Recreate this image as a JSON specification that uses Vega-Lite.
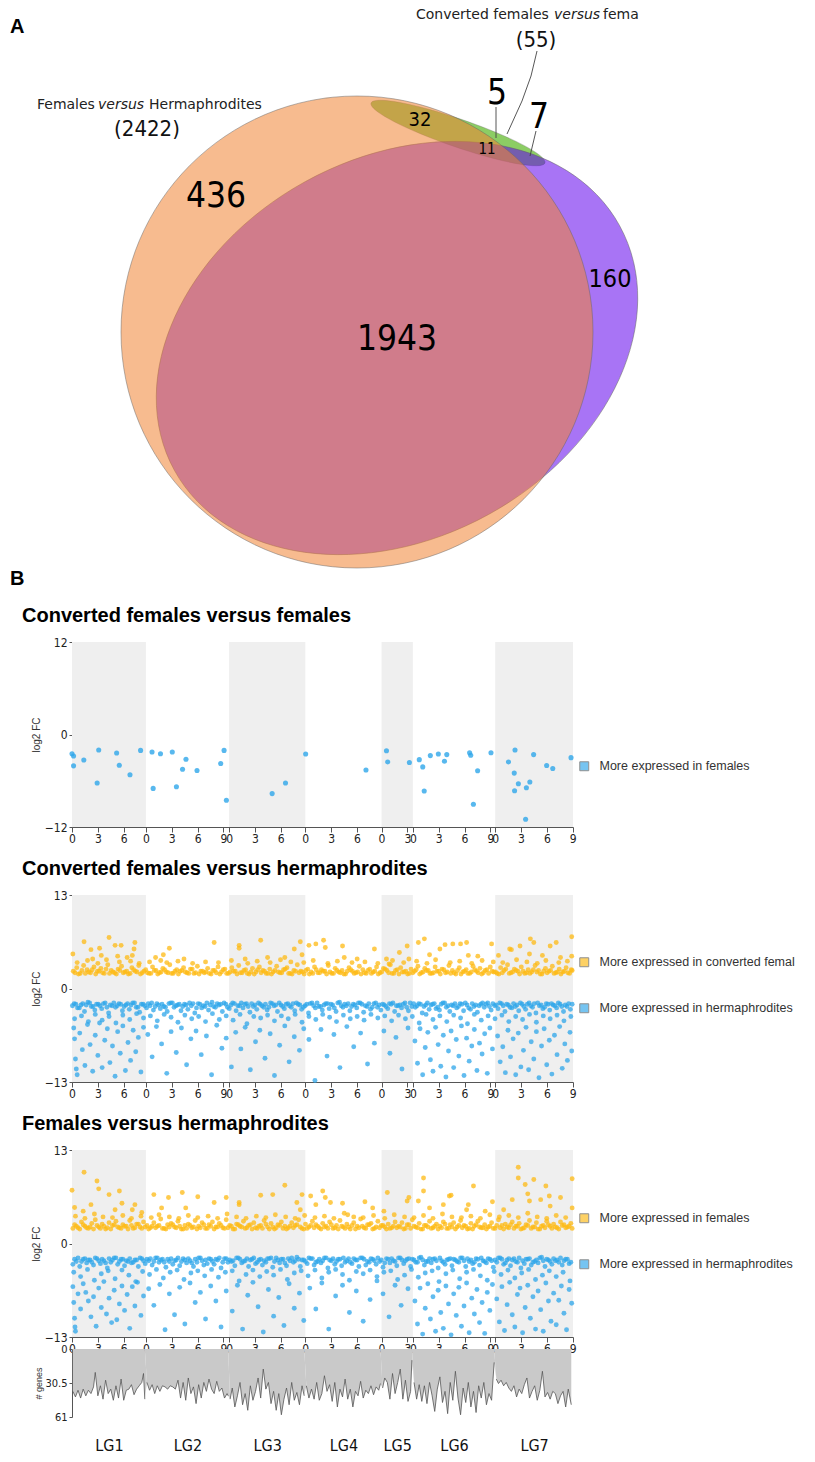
{
"$schema": "https://vega.github.io/schema/vega-lite/v6.json",
"padding": {"left": 10, "top": 0, "right": 0, "bottom": 0},
"spacing": 15,
"resolve": {"scale": {"color": "independent"}, "legend": {"color": "independent"}},
"config": {
  "font": "Liberation Sans",
  "view": {"stroke": null},
  "axis": {"grid": false, "domainColor": "#555", "tickColor": "#555", "labelColor": "#222", "labelFont": "DejaVu Sans Condensed, DejaVu Sans", "titleColor": "#333", "labelFlush": false},
  "legend": {"symbolType": "square", "symbolSize": 80, "symbolStrokeColor": "#555", "symbolStrokeWidth": 1, "symbolOpacity": 0.65, "labelFont": "Liberation Sans", "labelFontSize": 12.5, "labelColor": "#333", "rowPadding": 32, "labelOffset": 9, "padding": 0, "labelLimit": 400}
},
"datasets": {
  "ell": [{"e": "g", "x": 458, "y": 133}, {"e": "p", "x": 397, "y": 348}, {"e": "o", "x": 357, "y": 332}],
  "vline": [
    {"id": "a", "x": 537, "y": 51, "o": 1}, {"id": "a", "x": 531, "y": 76, "o": 2}, {"id": "a", "x": 522, "y": 101, "o": 3}, {"id": "a", "x": 507, "y": 134, "o": 4},
    {"id": "b", "x": 496, "y": 107, "o": 1}, {"id": "b", "x": 496, "y": 138, "o": 2},
    {"id": "c", "x": 536, "y": 131, "o": 1}, {"id": "c", "x": 530, "y": 156, "o": 2}
  ],
  "vtext": [
    {"t": "A", "x": 10, "y": 27, "r": "panel"},
    {"t": "B", "x": 10, "y": 579, "r": "panel"},
    {"t": "Converted females", "x": 416, "y": 15, "r": "lab"},
    {"t": "versus", "x": 554, "y": 15, "r": "labit"},
    {"t": "fema", "x": 603, "y": 15, "r": "lab"},
    {"t": "Females", "x": 37, "y": 105, "r": "lab"},
    {"t": "versus", "x": 98, "y": 105, "r": "labit"},
    {"t": "Hermaphrodites", "x": 149, "y": 105, "r": "lab"},
    {"t": "(55)", "x": 536, "y": 40, "r": "cnt"},
    {"t": "(2422)", "x": 147, "y": 129, "r": "cnt"},
    {"t": "5", "x": 497, "y": 93, "r": "big"},
    {"t": "7", "x": 539, "y": 117, "r": "big"},
    {"t": "436", "x": 216, "y": 196, "r": "big"},
    {"t": "1943", "x": 397, "y": 339, "r": "big"},
    {"t": "160", "x": 610, "y": 279, "r": "mid"},
    {"t": "32", "x": 420, "y": 120, "r": "sm"},
    {"t": "11", "x": 487, "y": 149, "r": "xs"}
  ],
  "lgband": [{"x": 0, "x2": 8.58}, {"x": 18.23, "x2": 27.08}, {"x": 35.93, "x2": 39.56}, {"x": 49.12, "x2": 58.15}],
  "p1": [
    {"x":0,"y":-2.49},{"x":0.18,"y":-2.79},{"x":0.18,"y":-4.07},{"x":1.37,"y":-3.3},{"x":3.1,"y":-2.01},{"x":2.92,"y":-6.3},{"x":5.18,"y":-2.4},{"x":5.49,"y":-3.99},{"x":6.73,"y":-5.23},{"x":7.96,"y":-2.06},
    {"x":9.29,"y":-2.27},{"x":9.42,"y":-6.99},{"x":10.27,"y":-2.49},{"x":11.64,"y":-2.27},{"x":12.12,"y":-6.77},{"x":12.83,"y":-4.5},{"x":13.23,"y":-3.21},{"x":14.51,"y":-4.67},{"x":17.26,"y":-3.77},{"x":17.65,"y":-2.06},
    {"x":17.92,"y":-8.53},{"x":23.23,"y":-7.67},{"x":24.78,"y":-6.3},{"x":27.12,"y":-2.53},{"x":34.12,"y":-4.6},{"x":36.5,"y":-2.1},{"x":36.64,"y":-3.56},{"x":39.16,"y":-3.64},{"x":40.31,"y":-3.26},{"x":40.71,"y":-4.2},
    {"x":40.88,"y":-7.33},{"x":41.59,"y":-2.74},{"x":42.52,"y":-2.53},{"x":43.23,"y":-3.47},{"x":43.5,"y":-2.61},{"x":46.15,"y":-2.36},{"x":46.28,"y":-2.7},{"x":46.59,"y":-9.04},{"x":47.08,"y":-4.71},{"x":48.63,"y":-2.36},
    {"x":50.66,"y":-3.56},{"x":51.33,"y":-5.01},{"x":51.42,"y":-2.01},{"x":51.37,"y":-7.29},{"x":51.81,"y":-6.39},{"x":52.74,"y":-6.9},{"x":53.14,"y":-6.17},{"x":53.58,"y":-2.61},{"x":52.65,"y":-11.0},{"x":55.09,"y":-4.03},
    {"x":55.8,"y":-4.41},{"x":57.92,"y":-3.0}
  ],
  "p2u": [
    {"x":0.15,"y":2.4},{"x":0.55,"y":2.9},{"x":0.95,"y":2.1},{"x":1.35,"y":3.2},{"x":1.75,"y":2.6},{"x":2.15,"y":2.2},{"x":2.55,"y":3.0},{"x":2.95,"y":2.4},{"x":3.35,"y":2.8},{"x":3.75,"y":2.1},
    {"x":4.15,"y":3.3},{"x":4.55,"y":2.5},{"x":4.95,"y":2.2},{"x":5.35,"y":2.7},{"x":5.75,"y":3.1},{"x":6.15,"y":2.3},{"x":6.55,"y":2.0},{"x":6.95,"y":2.9},{"x":7.35,"y":2.4},{"x":7.75,"y":3.2},
    {"x":8.15,"y":2.2},{"x":8.55,"y":2.6},{"x":8.95,"y":2.1},{"x":9.35,"y":3.0},{"x":9.75,"y":2.5},{"x":10.15,"y":2.2},{"x":10.55,"y":2.8},{"x":10.95,"y":2.3},{"x":11.35,"y":3.3},{"x":11.75,"y":2.1},
    {"x":12.15,"y":2.6},{"x":12.55,"y":2.4},{"x":12.95,"y":2.9},{"x":13.35,"y":2.2},{"x":13.75,"y":2.7},{"x":14.15,"y":2.1},{"x":14.55,"y":3.1},{"x":14.95,"y":2.4},{"x":15.35,"y":2.2},{"x":15.75,"y":2.8},
    {"x":16.15,"y":2.0},{"x":16.55,"y":2.5},{"x":16.95,"y":3.0},{"x":17.35,"y":2.3},{"x":17.75,"y":2.7},{"x":18.15,"y":2.1},{"x":18.55,"y":2.9},{"x":18.95,"y":2.4},{"x":19.35,"y":3.2},{"x":19.75,"y":2.2},
    {"x":20.15,"y":2.6},{"x":20.55,"y":2.0},{"x":20.95,"y":2.8},{"x":21.35,"y":2.3},{"x":21.75,"y":3.0},{"x":22.15,"y":2.5},{"x":22.55,"y":2.1},{"x":22.95,"y":2.7},{"x":23.35,"y":2.3},{"x":23.75,"y":3.1},
    {"x":24.15,"y":2.2},{"x":24.55,"y":2.6},{"x":24.95,"y":2.9},{"x":25.35,"y":2.1},{"x":25.75,"y":2.5},{"x":26.15,"y":3.3},{"x":26.55,"y":2.4},{"x":26.95,"y":2.0},{"x":27.35,"y":2.7},{"x":27.75,"y":2.3},
    {"x":28.15,"y":3.0},{"x":28.55,"y":2.2},{"x":28.95,"y":2.6},{"x":29.35,"y":2.4},{"x":29.75,"y":3.2},{"x":30.15,"y":2.1},{"x":30.55,"y":2.8},{"x":30.95,"y":2.3},{"x":31.35,"y":2.5},{"x":31.75,"y":2.0},
    {"x":32.15,"y":2.9},{"x":32.55,"y":2.4},{"x":32.95,"y":2.2},{"x":33.35,"y":3.1},{"x":33.75,"y":2.6},{"x":34.15,"y":2.1},{"x":34.55,"y":2.7},{"x":34.95,"y":2.3},{"x":35.35,"y":3.0},{"x":35.75,"y":2.2},
    {"x":36.15,"y":2.8},{"x":36.55,"y":2.5},{"x":36.95,"y":3.3},{"x":37.35,"y":2.1},{"x":37.75,"y":2.6},{"x":38.15,"y":2.9},{"x":38.55,"y":2.3},{"x":38.95,"y":2.0},{"x":39.35,"y":2.7},{"x":39.75,"y":2.4},
    {"x":40.15,"y":3.1},{"x":40.55,"y":2.2},{"x":40.95,"y":2.8},{"x":41.35,"y":2.5},{"x":41.75,"y":2.1},{"x":42.15,"y":3.0},{"x":42.55,"y":2.4},{"x":42.95,"y":2.7},{"x":43.35,"y":2.2},{"x":43.75,"y":3.2},
    {"x":44.15,"y":2.5},{"x":44.55,"y":2.0},{"x":44.95,"y":2.9},{"x":45.35,"y":2.3},{"x":45.75,"y":2.6},{"x":46.15,"y":2.1},{"x":46.55,"y":3.1},{"x":46.95,"y":2.4},{"x":47.35,"y":2.8},{"x":47.75,"y":2.2},
    {"x":48.15,"y":2.6},{"x":48.55,"y":3.0},{"x":48.95,"y":2.3},{"x":49.35,"y":2.1},{"x":49.75,"y":2.9},{"x":50.15,"y":2.5},{"x":50.55,"y":3.3},{"x":50.95,"y":2.2},{"x":51.35,"y":2.7},{"x":51.75,"y":2.4},
    {"x":52.15,"y":3.0},{"x":52.55,"y":2.1},{"x":52.95,"y":2.6},{"x":53.35,"y":2.3},{"x":53.75,"y":3.2},{"x":54.15,"y":2.5},{"x":54.55,"y":2.0},{"x":54.95,"y":2.8},{"x":55.35,"y":2.4},{"x":55.75,"y":3.1},
    {"x":56.15,"y":2.2},{"x":56.55,"y":2.7},{"x":56.95,"y":2.3},{"x":57.35,"y":2.9},{"x":57.75,"y":2.1},{"x":58.05,"y":2.5},
    {"x":0.35,"y":2.2},{"x":0.75,"y":2.0},{"x":1.15,"y":2.5},{"x":1.55,"y":2.1},{"x":1.95,"y":2.3},{"x":2.35,"y":2.6},{"x":2.75,"y":2.0},{"x":3.15,"y":2.4},{"x":3.55,"y":2.2},{"x":3.95,"y":2.7},
    {"x":4.35,"y":2.1},{"x":4.75,"y":2.3},{"x":5.15,"y":2.0},{"x":5.55,"y":2.5},{"x":5.95,"y":2.2},{"x":6.35,"y":2.4},{"x":6.75,"y":2.1},{"x":7.15,"y":2.6},{"x":7.55,"y":2.3},{"x":7.95,"y":2.0},
    {"x":8.35,"y":2.4},{"x":8.75,"y":2.2},{"x":9.15,"y":2.1},{"x":9.55,"y":2.5},{"x":9.95,"y":2.0},{"x":10.35,"y":2.3},{"x":10.75,"y":2.6},{"x":11.15,"y":2.2},{"x":11.55,"y":2.1},{"x":11.95,"y":2.4},
    {"x":12.35,"y":2.0},{"x":12.75,"y":2.5},{"x":13.15,"y":2.3},{"x":13.55,"y":2.1},{"x":13.95,"y":2.7},{"x":14.35,"y":2.2},{"x":14.75,"y":2.0},{"x":15.15,"y":2.4},{"x":15.55,"y":2.3},{"x":15.95,"y":2.1},
    {"x":16.35,"y":2.5},{"x":16.75,"y":2.2},{"x":17.15,"y":2.0},{"x":17.55,"y":2.6},{"x":17.95,"y":2.1},{"x":18.35,"y":2.3},{"x":18.75,"y":2.4},{"x":19.15,"y":2.0},{"x":19.55,"y":2.2},{"x":19.95,"y":2.5},
    {"x":20.35,"y":2.1},{"x":20.75,"y":2.3},{"x":21.15,"y":2.0},{"x":21.55,"y":2.6},{"x":21.95,"y":2.2},{"x":22.35,"y":2.4},{"x":22.75,"y":2.1},{"x":23.15,"y":2.0},{"x":23.55,"y":2.5},{"x":23.95,"y":2.3},
    {"x":24.35,"y":2.2},{"x":24.75,"y":2.7},{"x":25.15,"y":2.1},{"x":25.55,"y":2.0},{"x":25.95,"y":2.4},{"x":26.35,"y":2.2},{"x":26.75,"y":2.3},{"x":27.15,"y":2.5},{"x":27.55,"y":2.0},{"x":27.95,"y":2.1},
    {"x":28.35,"y":2.6},{"x":28.75,"y":2.2},{"x":29.15,"y":2.4},{"x":29.55,"y":2.0},{"x":29.95,"y":2.3},{"x":30.35,"y":2.1},{"x":30.75,"y":2.5},{"x":31.15,"y":2.2},{"x":31.55,"y":2.0},{"x":31.95,"y":2.4},
    {"x":32.35,"y":2.6},{"x":32.75,"y":2.1},{"x":33.15,"y":2.3},{"x":33.55,"y":2.0},{"x":33.95,"y":2.2},{"x":34.35,"y":2.5},{"x":34.75,"y":2.1},{"x":35.15,"y":2.4},{"x":35.55,"y":2.0},{"x":35.95,"y":2.3},
    {"x":36.35,"y":2.7},{"x":36.75,"y":2.2},{"x":37.15,"y":2.1},{"x":37.55,"y":2.5},{"x":37.95,"y":2.0},{"x":38.35,"y":2.3},{"x":38.75,"y":2.4},{"x":39.15,"y":2.1},{"x":39.55,"y":2.2},{"x":39.95,"y":2.6},
    {"x":40.35,"y":2.0},{"x":40.75,"y":2.3},{"x":41.15,"y":2.5},{"x":41.55,"y":2.1},{"x":41.95,"y":2.2},{"x":42.35,"y":2.4},{"x":42.75,"y":2.0},{"x":43.15,"y":2.6},{"x":43.55,"y":2.3},{"x":43.95,"y":2.1},
    {"x":44.35,"y":2.2},{"x":44.75,"y":2.5},{"x":45.15,"y":2.0},{"x":45.55,"y":2.4},{"x":45.95,"y":2.1},{"x":46.35,"y":2.3},{"x":46.75,"y":2.6},{"x":47.15,"y":2.2},{"x":47.55,"y":2.0},{"x":47.95,"y":2.5},
    {"x":48.35,"y":2.1},{"x":48.75,"y":2.4},{"x":49.15,"y":2.3},{"x":49.55,"y":2.0},{"x":49.95,"y":2.2},{"x":50.35,"y":2.7},{"x":50.75,"y":2.1},{"x":51.15,"y":2.3},{"x":51.55,"y":2.5},{"x":51.95,"y":2.0},
    {"x":52.35,"y":2.4},{"x":52.75,"y":2.2},{"x":53.15,"y":2.1},{"x":53.55,"y":2.6},{"x":53.95,"y":2.3},{"x":54.35,"y":2.0},{"x":54.75,"y":2.4},{"x":55.15,"y":2.2},{"x":55.55,"y":2.5},{"x":55.95,"y":2.1},
    {"x":56.35,"y":2.3},{"x":56.75,"y":2.0},{"x":57.15,"y":2.4},{"x":57.55,"y":2.2},{"x":57.95,"y":2.6},
    {"x":0.6,"y":3.6},{"x":1.8,"y":3.9},{"x":3.0,"y":3.5},{"x":4.0,"y":4.0},{"x":5.5,"y":3.7},{"x":6.8,"y":3.8},{"x":7.8,"y":3.5},{"x":9.0,"y":3.7},{"x":10.3,"y":3.9},{"x":11.0,"y":3.6},
    {"x":12.3,"y":3.8},{"x":14.0,"y":3.5},{"x":15.5,"y":3.7},{"x":17.0,"y":3.6},{"x":18.5,"y":3.9},{"x":20.4,"y":3.5},{"x":21.5,"y":3.8},{"x":23.0,"y":3.6},{"x":24.2,"y":4.0},{"x":25.4,"y":3.7},
    {"x":26.9,"y":3.6},{"x":28.0,"y":3.9},{"x":29.7,"y":3.5},{"x":30.8,"y":3.8},{"x":32.5,"y":3.6},{"x":34.0,"y":3.7},{"x":35.5,"y":3.5},{"x":37.2,"y":3.9},{"x":38.5,"y":3.6},{"x":40.0,"y":3.8},
    {"x":41.2,"y":3.5},{"x":42.2,"y":4.0},{"x":43.9,"y":3.6},{"x":45.0,"y":3.8},{"x":46.4,"y":3.5},{"x":47.6,"y":3.9},{"x":48.9,"y":3.7},{"x":50.0,"y":3.6},{"x":51.6,"y":4.0},{"x":52.8,"y":3.7},
    {"x":54.0,"y":3.5},{"x":55.0,"y":3.9},{"x":56.5,"y":3.6},{"x":57.5,"y":3.8},
    {"x":0.1,"y":4.8},{"x":1.4,"y":6.5},{"x":2.2,"y":5.4},{"x":3.2,"y":5.6},{"x":4.3,"y":7.1},{"x":5.0,"y":6.0},{"x":5.7,"y":6.0},{"x":7.3,"y":6.4},{"x":7.2,"y":5.5},{"x":2.4,"y":4.1},
    {"x":3.4,"y":4.6},{"x":5.3,"y":4.5},{"x":6.4,"y":4.3},{"x":7.0,"y":4.6},{"x":9.7,"y":4.3},{"x":10.6,"y":4.7},{"x":11.3,"y":5.6},{"x":13.0,"y":4.1},{"x":16.5,"y":6.4},{"x":19.4,"y":6.0},
    {"x":19.4,"y":5.6},{"x":21.9,"y":6.7},{"x":20.1,"y":4.1},{"x":22.7,"y":4.3},{"x":24.7,"y":4.3},{"x":25.8,"y":5.5},{"x":26.5,"y":6.5},{"x":26.7,"y":4.7},{"x":27.5,"y":6.0},{"x":28.3,"y":6.2},
    {"x":29.2,"y":6.7},{"x":29.4,"y":5.7},{"x":31.4,"y":5.9},{"x":31.6,"y":4.3},{"x":33.1,"y":4.1},{"x":35.1,"y":5.5},{"x":36.5,"y":4.1},{"x":36.8,"y":3.4},{"x":38.0,"y":5.0},{"x":38.9,"y":5.9},
    {"x":39.1,"y":4.1},{"x":40.2,"y":6.4},{"x":40.9,"y":6.9},{"x":41.5,"y":4.7},{"x":42.7,"y":5.5},{"x":43.3,"y":6.1},{"x":44.2,"y":6.2},{"x":45.1,"y":6.2},{"x":45.8,"y":6.4},{"x":46.0,"y":4.6},
    {"x":47.1,"y":4.5},{"x":48.7,"y":6.2},{"x":49.5,"y":4.6},{"x":50.8,"y":5.5},{"x":51.0,"y":5.4},{"x":52.0,"y":5.9},{"x":53.1,"y":4.8},{"x":53.2,"y":6.9},{"x":53.6,"y":6.4},{"x":54.6,"y":4.6},
    {"x":55.5,"y":5.9},{"x":56.2,"y":6.4},{"x":56.7,"y":4.3},{"x":58.0,"y":7.2},{"x":58.0,"y":4.5}
  ],
  "p2d": [
    {"x":0.25,"y":-2.1},{"x":0.65,"y":-2.7},{"x":1.05,"y":-2.3},{"x":1.45,"y":-3.2},{"x":1.85,"y":-1.9},{"x":2.25,"y":-2.5},{"x":2.65,"y":-3.0},{"x":3.05,"y":-2.2},{"x":3.45,"y":-2.8},{"x":3.85,"y":-2.0},
    {"x":4.25,"y":-3.4},{"x":4.65,"y":-2.4},{"x":5.05,"y":-2.6},{"x":5.45,"y":-2.1},{"x":5.85,"y":-3.1},{"x":6.25,"y":-2.3},{"x":6.65,"y":-2.9},{"x":7.05,"y":-2.0},{"x":7.45,"y":-2.6},{"x":7.85,"y":-3.3},
    {"x":8.25,"y":-2.2},{"x":8.65,"y":-2.7},{"x":9.05,"y":-2.4},{"x":9.45,"y":-3.0},{"x":9.85,"y":-2.1},{"x":10.25,"y":-2.8},{"x":10.65,"y":-2.5},{"x":11.05,"y":-3.2},{"x":11.45,"y":-2.0},{"x":11.85,"y":-2.6},
    {"x":12.25,"y":-2.3},{"x":12.65,"y":-3.1},{"x":13.05,"y":-2.2},{"x":13.45,"y":-2.9},{"x":13.85,"y":-2.4},{"x":14.25,"y":-3.4},{"x":14.65,"y":-2.1},{"x":15.05,"y":-2.7},{"x":15.45,"y":-2.5},{"x":15.85,"y":-3.0},
    {"x":16.25,"y":-1.9},{"x":16.65,"y":-2.6},{"x":17.05,"y":-2.3},{"x":17.45,"y":-3.2},{"x":17.85,"y":-2.2},{"x":18.25,"y":-2.8},{"x":18.65,"y":-2.0},{"x":19.05,"y":-3.1},{"x":19.45,"y":-2.4},{"x":19.85,"y":-2.7},
    {"x":20.25,"y":-2.1},{"x":20.65,"y":-3.3},{"x":21.05,"y":-2.5},{"x":21.45,"y":-2.9},{"x":21.85,"y":-2.2},{"x":22.25,"y":-2.6},{"x":22.65,"y":-3.0},{"x":23.05,"y":-2.0},{"x":23.45,"y":-2.4},{"x":23.85,"y":-3.2},
    {"x":24.25,"y":-2.3},{"x":24.65,"y":-2.8},{"x":25.05,"y":-2.1},{"x":25.45,"y":-2.6},{"x":25.85,"y":-3.1},{"x":26.25,"y":-2.2},{"x":26.65,"y":-2.9},{"x":27.05,"y":-2.4},{"x":27.45,"y":-3.4},{"x":27.85,"y":-2.0},
    {"x":28.25,"y":-2.7},{"x":28.65,"y":-2.5},{"x":29.05,"y":-3.0},{"x":29.45,"y":-2.1},{"x":29.85,"y":-2.8},{"x":30.25,"y":-2.3},{"x":30.65,"y":-3.2},{"x":31.05,"y":-1.9},{"x":31.45,"y":-2.6},{"x":31.85,"y":-2.4},
    {"x":32.25,"y":-3.1},{"x":32.65,"y":-2.2},{"x":33.05,"y":-2.7},{"x":33.45,"y":-2.0},{"x":33.85,"y":-3.3},{"x":34.25,"y":-2.5},{"x":34.65,"y":-2.9},{"x":35.05,"y":-2.1},{"x":35.45,"y":-2.6},{"x":35.85,"y":-3.0},
    {"x":36.25,"y":-2.3},{"x":36.65,"y":-2.8},{"x":37.05,"y":-2.2},{"x":37.45,"y":-3.2},{"x":37.85,"y":-2.4},{"x":38.25,"y":-2.7},{"x":38.65,"y":-2.0},{"x":39.05,"y":-3.1},{"x":39.45,"y":-2.5},{"x":39.85,"y":-2.6},
    {"x":40.25,"y":-2.1},{"x":40.65,"y":-3.4},{"x":41.05,"y":-2.3},{"x":41.45,"y":-2.9},{"x":41.85,"y":-2.2},{"x":42.25,"y":-2.8},{"x":42.65,"y":-3.0},{"x":43.05,"y":-2.0},{"x":43.45,"y":-2.6},{"x":43.85,"y":-3.2},
    {"x":44.25,"y":-2.4},{"x":44.65,"y":-2.7},{"x":45.05,"y":-2.1},{"x":45.45,"y":-3.1},{"x":45.85,"y":-2.3},{"x":46.25,"y":-2.9},{"x":46.65,"y":-2.5},{"x":47.05,"y":-3.3},{"x":47.45,"y":-2.2},{"x":47.85,"y":-2.6},
    {"x":48.25,"y":-2.0},{"x":48.65,"y":-3.0},{"x":49.05,"y":-2.4},{"x":49.45,"y":-2.8},{"x":49.85,"y":-2.1},{"x":50.25,"y":-3.2},{"x":50.65,"y":-2.3},{"x":51.05,"y":-2.7},{"x":51.45,"y":-2.5},{"x":51.85,"y":-3.1},
    {"x":52.25,"y":-2.2},{"x":52.65,"y":-2.9},{"x":53.05,"y":-2.0},{"x":53.45,"y":-2.6},{"x":53.85,"y":-3.4},{"x":54.25,"y":-2.4},{"x":54.65,"y":-2.8},{"x":55.05,"y":-2.1},{"x":55.45,"y":-3.0},{"x":55.85,"y":-2.3},
    {"x":56.25,"y":-2.7},{"x":56.65,"y":-2.2},{"x":57.05,"y":-3.2},{"x":57.45,"y":-2.5},{"x":57.85,"y":-2.9},
    {"x":0.05,"y":-2.4},{"x":0.45,"y":-2.2},{"x":0.85,"y":-2.7},{"x":1.25,"y":-2.1},{"x":1.65,"y":-2.3},{"x":2.05,"y":-2.0},{"x":2.45,"y":-2.5},{"x":2.85,"y":-2.2},{"x":3.25,"y":-2.4},{"x":3.65,"y":-2.1},
    {"x":4.05,"y":-2.6},{"x":4.45,"y":-2.3},{"x":4.85,"y":-2.0},{"x":5.25,"y":-2.4},{"x":5.65,"y":-2.2},{"x":6.05,"y":-2.5},{"x":6.45,"y":-2.1},{"x":6.85,"y":-2.3},{"x":7.25,"y":-2.0},{"x":7.65,"y":-2.6},
    {"x":8.05,"y":-2.2},{"x":8.45,"y":-2.4},{"x":8.85,"y":-2.1},{"x":9.25,"y":-2.0},{"x":9.65,"y":-2.5},{"x":10.05,"y":-2.3},{"x":10.45,"y":-2.2},{"x":10.85,"y":-2.6},{"x":11.25,"y":-2.1},{"x":11.65,"y":-2.0},
    {"x":12.05,"y":-2.4},{"x":12.45,"y":-2.2},{"x":12.85,"y":-2.5},{"x":13.25,"y":-2.3},{"x":13.65,"y":-2.0},{"x":14.05,"y":-2.1},{"x":14.45,"y":-2.7},{"x":14.85,"y":-2.2},{"x":15.25,"y":-2.4},{"x":15.65,"y":-2.0},
    {"x":16.05,"y":-2.3},{"x":16.45,"y":-2.5},{"x":16.85,"y":-2.1},{"x":17.25,"y":-2.2},{"x":17.65,"y":-2.0},{"x":18.05,"y":-2.6},{"x":18.45,"y":-2.3},{"x":18.85,"y":-2.1},{"x":19.25,"y":-2.4},{"x":19.65,"y":-2.0},
    {"x":20.05,"y":-2.2},{"x":20.45,"y":-2.5},{"x":20.85,"y":-2.1},{"x":21.25,"y":-2.3},{"x":21.65,"y":-2.0},{"x":22.05,"y":-2.4},{"x":22.45,"y":-2.2},{"x":22.85,"y":-2.6},{"x":23.25,"y":-2.1},{"x":23.65,"y":-2.3},
    {"x":24.05,"y":-2.0},{"x":24.45,"y":-2.5},{"x":24.85,"y":-2.2},{"x":25.25,"y":-2.4},{"x":25.65,"y":-2.1},{"x":26.05,"y":-2.0},{"x":26.45,"y":-2.3},{"x":26.85,"y":-2.6},{"x":27.25,"y":-2.2},{"x":27.65,"y":-2.1},
    {"x":28.05,"y":-2.4},{"x":28.45,"y":-2.0},{"x":28.85,"y":-2.5},{"x":29.25,"y":-2.3},{"x":29.65,"y":-2.1},{"x":30.05,"y":-2.2},{"x":30.45,"y":-2.7},{"x":30.85,"y":-2.0},{"x":31.25,"y":-2.4},{"x":31.65,"y":-2.2},
    {"x":32.05,"y":-2.1},{"x":32.45,"y":-2.5},{"x":32.85,"y":-2.3},{"x":33.25,"y":-2.0},{"x":33.65,"y":-2.2},{"x":34.05,"y":-2.4},{"x":34.45,"y":-2.1},{"x":34.85,"y":-2.6},{"x":35.25,"y":-2.0},{"x":35.65,"y":-2.3},
    {"x":36.05,"y":-2.2},{"x":36.45,"y":-2.5},{"x":36.85,"y":-2.1},{"x":37.25,"y":-2.0},{"x":37.65,"y":-2.4},{"x":38.05,"y":-2.3},{"x":38.45,"y":-2.2},{"x":38.85,"y":-2.6},{"x":39.25,"y":-2.0},{"x":39.65,"y":-2.1},
    {"x":40.05,"y":-2.4},{"x":40.45,"y":-2.2},{"x":40.85,"y":-2.5},{"x":41.25,"y":-2.0},{"x":41.65,"y":-2.3},{"x":42.05,"y":-2.1},{"x":42.45,"y":-2.6},{"x":42.85,"y":-2.2},{"x":43.25,"y":-2.0},{"x":43.65,"y":-2.4},
    {"x":44.05,"y":-2.3},{"x":44.45,"y":-2.1},{"x":44.85,"y":-2.5},{"x":45.25,"y":-2.2},{"x":45.65,"y":-2.0},{"x":46.05,"y":-2.7},{"x":46.45,"y":-2.1},{"x":46.85,"y":-2.3},{"x":47.25,"y":-2.4},{"x":47.65,"y":-2.0},
    {"x":48.05,"y":-2.2},{"x":48.45,"y":-2.5},{"x":48.85,"y":-2.1},{"x":49.25,"y":-2.3},{"x":49.65,"y":-2.0},{"x":50.05,"y":-2.4},{"x":50.45,"y":-2.2},{"x":50.85,"y":-2.6},{"x":51.25,"y":-2.1},{"x":51.65,"y":-2.3},
    {"x":52.05,"y":-2.0},{"x":52.45,"y":-2.5},{"x":52.85,"y":-2.2},{"x":53.25,"y":-2.4},{"x":53.65,"y":-2.1},{"x":54.05,"y":-2.0},{"x":54.45,"y":-2.3},{"x":54.85,"y":-2.6},{"x":55.25,"y":-2.2},{"x":55.65,"y":-2.1},
    {"x":56.05,"y":-2.4},{"x":56.45,"y":-2.0},{"x":56.85,"y":-2.5},{"x":57.25,"y":-2.3},{"x":57.65,"y":-2.1},{"x":58.05,"y":-2.2},
    {"x":0.3,"y":-4.2},{"x":1.1,"y":-3.8},{"x":1.9,"y":-4.6},{"x":2.7,"y":-3.6},{"x":3.5,"y":-4.4},{"x":4.3,"y":-3.9},{"x":5.1,"y":-4.8},{"x":5.9,"y":-3.7},{"x":6.7,"y":-4.3},{"x":7.5,"y":-3.5},
    {"x":8.3,"y":-4.1},{"x":9.1,"y":-3.8},{"x":9.9,"y":-4.5},{"x":10.7,"y":-3.6},{"x":11.5,"y":-4.0},{"x":12.3,"y":-4.7},{"x":13.1,"y":-3.7},{"x":13.9,"y":-4.2},{"x":14.7,"y":-3.9},{"x":15.5,"y":-4.6},
    {"x":16.3,"y":-3.5},{"x":17.1,"y":-4.3},{"x":17.9,"y":-3.8},{"x":18.7,"y":-4.4},{"x":19.5,"y":-3.6},{"x":20.3,"y":-4.9},{"x":21.1,"y":-3.9},{"x":21.9,"y":-4.1},{"x":22.7,"y":-3.7},{"x":23.5,"y":-4.5},
    {"x":24.3,"y":-3.8},{"x":25.1,"y":-4.2},{"x":25.9,"y":-3.6},{"x":26.7,"y":-4.7},{"x":27.5,"y":-3.9},{"x":28.3,"y":-4.3},{"x":29.1,"y":-3.6},{"x":29.9,"y":-4.0},{"x":30.7,"y":-4.6},{"x":31.5,"y":-3.7},
    {"x":32.3,"y":-4.2},{"x":33.1,"y":-3.9},{"x":33.9,"y":-4.4},{"x":34.7,"y":-3.6},{"x":35.5,"y":-4.1},{"x":36.3,"y":-3.8},{"x":37.1,"y":-4.5},{"x":37.9,"y":-3.7},{"x":38.7,"y":-4.2},{"x":39.5,"y":-3.9},
    {"x":40.3,"y":-4.8},{"x":41.1,"y":-3.6},{"x":41.9,"y":-4.3},{"x":42.7,"y":-3.8},{"x":43.5,"y":-4.6},{"x":44.3,"y":-3.7},{"x":45.1,"y":-4.1},{"x":45.9,"y":-4.9},{"x":46.7,"y":-3.6},{"x":47.5,"y":-4.4},
    {"x":48.3,"y":-3.8},{"x":49.1,"y":-4.2},{"x":49.9,"y":-3.7},{"x":50.7,"y":-4.6},{"x":51.5,"y":-3.9},{"x":52.3,"y":-4.3},{"x":53.1,"y":-3.6},{"x":53.9,"y":-4.7},{"x":54.7,"y":-3.8},{"x":55.5,"y":-4.2},
    {"x":56.3,"y":-3.7},{"x":57.1,"y":-4.5},{"x":57.9,"y":-3.9},
    {"x":0.2,"y":-5.5},{"x":0.3,"y":-7.0},{"x":0.4,"y":-9.8},{"x":0.5,"y":-11.2},{"x":0.6,"y":-12.0},{"x":0.9,"y":-6.2},{"x":1.2,"y":-8.5},{"x":1.5,"y":-10.7},{"x":1.8,"y":-5.0},{"x":2.1,"y":-7.8},
    {"x":2.4,"y":-11.5},{"x":2.7,"y":-6.5},{"x":3.0,"y":-9.3},{"x":3.2,"y":-4.8},{"x":3.5,"y":-11.0},{"x":3.8,"y":-7.2},{"x":4.1,"y":-5.6},{"x":4.4,"y":-10.3},{"x":4.7,"y":-8.0},{"x":5.0,"y":-12.2},
    {"x":5.3,"y":-6.0},{"x":5.6,"y":-9.0},{"x":5.9,"y":-5.2},{"x":6.2,"y":-11.4},{"x":6.5,"y":-7.5},{"x":6.8,"y":-10.0},{"x":7.1,"y":-5.8},{"x":7.4,"y":-8.8},{"x":7.7,"y":-6.8},{"x":8.0,"y":-11.6},
    {"x":8.3,"y":-5.4},{"x":8.8,"y":-6.4},{"x":9.3,"y":-9.5},{"x":9.8,"y":-5.3},{"x":10.4,"y":-7.7},{"x":11.0,"y":-11.8},{"x":11.5,"y":-6.0},{"x":12.1,"y":-8.9},{"x":12.7,"y":-5.5},{"x":13.3,"y":-10.6},
    {"x":13.8,"y":-7.0},{"x":14.4,"y":-5.9},{"x":15.0,"y":-9.2},{"x":15.6,"y":-6.6},{"x":16.2,"y":-12.0},{"x":16.8,"y":-5.1},{"x":17.4,"y":-8.3},{"x":17.9,"y":-6.9},{"x":18.5,"y":-10.9},{"x":19.0,"y":-6.1},
    {"x":19.6,"y":-8.4},{"x":20.1,"y":-5.4},{"x":20.7,"y":-11.3},{"x":21.3,"y":-7.4},{"x":21.8,"y":-5.8},{"x":22.4,"y":-9.7},{"x":23.0,"y":-6.3},{"x":23.5,"y":-12.1},{"x":24.1,"y":-7.9},{"x":24.7,"y":-5.2},
    {"x":25.2,"y":-10.2},{"x":25.8,"y":-6.7},{"x":26.4,"y":-8.6},{"x":26.9,"y":-5.6},{"x":27.5,"y":-7.1},{"x":28.2,"y":-12.8},{"x":28.9,"y":-5.7},{"x":29.6,"y":-9.4},{"x":30.4,"y":-6.4},{"x":31.1,"y":-11.0},
    {"x":31.9,"y":-5.3},{"x":32.7,"y":-8.1},{"x":33.5,"y":-6.2},{"x":34.3,"y":-10.5},{"x":35.1,"y":-7.6},{"x":36.2,"y":-5.9},{"x":36.9,"y":-9.0},{"x":37.6,"y":-6.8},{"x":38.3,"y":-11.2},{"x":39.0,"y":-5.5},
    {"x":39.8,"y":-7.3},{"x":40.1,"y":-10.4},{"x":40.4,"y":-5.6},{"x":40.7,"y":-12.0},{"x":41.0,"y":-8.2},{"x":41.3,"y":-6.1},{"x":41.6,"y":-9.9},{"x":41.9,"y":-11.5},{"x":42.2,"y":-5.4},{"x":42.5,"y":-7.8},
    {"x":42.8,"y":-10.8},{"x":43.1,"y":-6.5},{"x":43.4,"y":-12.3},{"x":43.7,"y":-8.7},{"x":44.0,"y":-5.9},{"x":44.3,"y":-11.0},{"x":44.6,"y":-7.1},{"x":44.9,"y":-9.4},{"x":45.2,"y":-5.2},{"x":45.5,"y":-12.1},
    {"x":45.8,"y":-6.9},{"x":46.1,"y":-10.1},{"x":46.4,"y":-8.0},{"x":46.7,"y":-5.7},{"x":47.0,"y":-11.4},{"x":47.3,"y":-7.6},{"x":47.6,"y":-9.1},{"x":47.9,"y":-6.3},{"x":48.2,"y":-11.8},{"x":48.5,"y":-5.5},
    {"x":48.8,"y":-8.4},{"x":49.4,"y":-6.6},{"x":49.7,"y":-10.2},{"x":50.0,"y":-8.1},{"x":50.3,"y":-11.7},{"x":50.6,"y":-5.8},{"x":50.9,"y":-9.5},{"x":51.2,"y":-7.0},{"x":51.5,"y":-12.0},{"x":51.8,"y":-6.2},
    {"x":52.1,"y":-10.9},{"x":52.4,"y":-8.6},{"x":52.7,"y":-5.4},{"x":53.0,"y":-11.3},{"x":53.3,"y":-7.4},{"x":53.6,"y":-9.8},{"x":53.9,"y":-6.0},{"x":54.2,"y":-12.4},{"x":54.5,"y":-8.0},{"x":54.8,"y":-5.6},
    {"x":55.1,"y":-10.6},{"x":55.4,"y":-7.2},{"x":55.7,"y":-11.9},{"x":56.0,"y":-6.5},{"x":56.3,"y":-9.2},{"x":56.6,"y":-5.3},{"x":56.9,"y":-11.1},{"x":57.2,"y":-7.7},{"x":57.5,"y":-10.0},{"x":57.8,"y":-6.1},
    {"x":58.0,"y":-8.7}
  ],
  "p3u": [
    {"x":0.3,"y":2.6},{"x":0.7,"y":2.2},{"x":1.1,"y":3.0},{"x":1.5,"y":2.4},{"x":1.9,"y":2.1},{"x":2.3,"y":2.8},{"x":2.7,"y":3.3},{"x":3.1,"y":2.3},{"x":3.5,"y":2.7},{"x":3.9,"y":2.0},
    {"x":4.3,"y":2.9},{"x":4.7,"y":2.5},{"x":5.1,"y":3.1},{"x":5.5,"y":2.2},{"x":5.9,"y":2.6},{"x":6.3,"y":2.4},{"x":6.7,"y":3.2},{"x":7.1,"y":2.1},{"x":7.5,"y":2.7},{"x":7.9,"y":2.3},
    {"x":8.3,"y":3.0},{"x":8.7,"y":2.5},{"x":9.1,"y":2.2},{"x":9.5,"y":2.9},{"x":9.9,"y":2.4},{"x":10.3,"y":3.4},{"x":10.7,"y":2.1},{"x":11.1,"y":2.6},{"x":11.5,"y":2.8},{"x":11.9,"y":2.3},
    {"x":12.3,"y":3.1},{"x":12.7,"y":2.0},{"x":13.1,"y":2.5},{"x":13.5,"y":2.7},{"x":13.9,"y":2.2},{"x":14.3,"y":3.2},{"x":14.7,"y":2.4},{"x":15.1,"y":2.9},{"x":15.5,"y":2.1},{"x":15.9,"y":2.6},
    {"x":16.3,"y":3.0},{"x":16.7,"y":2.3},{"x":17.1,"y":2.8},{"x":17.5,"y":2.2},{"x":17.9,"y":3.3},{"x":18.3,"y":2.5},{"x":18.7,"y":2.0},{"x":19.1,"y":2.7},{"x":19.5,"y":2.4},{"x":19.9,"y":3.1},
    {"x":20.3,"y":2.2},{"x":20.7,"y":2.6},{"x":21.1,"y":2.9},{"x":21.5,"y":2.1},{"x":21.9,"y":2.5},{"x":22.3,"y":3.2},{"x":22.7,"y":2.3},{"x":23.1,"y":2.8},{"x":23.5,"y":2.0},{"x":23.9,"y":2.6},
    {"x":24.3,"y":3.0},{"x":24.7,"y":2.4},{"x":25.1,"y":2.2},{"x":25.5,"y":2.9},{"x":25.9,"y":2.5},{"x":26.3,"y":3.3},{"x":26.7,"y":2.1},{"x":27.1,"y":2.7},{"x":27.5,"y":2.3},{"x":27.9,"y":3.1},
    {"x":28.3,"y":2.6},{"x":28.7,"y":2.2},{"x":29.1,"y":2.8},{"x":29.5,"y":2.4},{"x":29.9,"y":3.0},{"x":30.3,"y":2.1},{"x":30.7,"y":2.5},{"x":31.1,"y":3.2},{"x":31.5,"y":2.3},{"x":31.9,"y":2.7},
    {"x":32.3,"y":2.0},{"x":32.7,"y":2.9},{"x":33.1,"y":2.4},{"x":33.5,"y":3.4},{"x":33.9,"y":2.2},{"x":34.3,"y":2.6},{"x":34.7,"y":2.8},{"x":35.1,"y":2.1},{"x":35.5,"y":3.1},{"x":35.9,"y":2.5},
    {"x":36.3,"y":2.3},{"x":36.7,"y":2.7},{"x":37.1,"y":2.2},{"x":37.5,"y":3.0},{"x":37.9,"y":2.4},{"x":38.3,"y":2.9},{"x":38.7,"y":2.1},{"x":39.1,"y":2.6},{"x":39.5,"y":3.3},{"x":39.9,"y":2.3},
    {"x":40.3,"y":2.8},{"x":40.7,"y":2.0},{"x":41.1,"y":2.5},{"x":41.5,"y":3.1},{"x":41.9,"y":2.2},{"x":42.3,"y":2.7},{"x":42.7,"y":2.4},{"x":43.1,"y":3.0},{"x":43.5,"y":2.1},{"x":43.9,"y":2.6},
    {"x":44.3,"y":2.9},{"x":44.7,"y":2.3},{"x":45.1,"y":3.2},{"x":45.5,"y":2.5},{"x":45.9,"y":2.0},{"x":46.3,"y":2.8},{"x":46.7,"y":2.4},{"x":47.1,"y":3.1},{"x":47.5,"y":2.2},{"x":47.9,"y":2.6},
    {"x":48.3,"y":2.3},{"x":48.7,"y":2.9},{"x":49.1,"y":2.1},{"x":49.5,"y":3.3},{"x":49.9,"y":2.5},{"x":50.3,"y":2.7},{"x":50.7,"y":2.2},{"x":51.1,"y":3.0},{"x":51.5,"y":2.4},{"x":51.9,"y":2.8},
    {"x":52.3,"y":2.1},{"x":52.7,"y":2.6},{"x":53.1,"y":3.2},{"x":53.5,"y":2.3},{"x":53.9,"y":2.9},{"x":54.3,"y":2.0},{"x":54.7,"y":2.5},{"x":55.1,"y":3.1},{"x":55.5,"y":2.4},{"x":55.9,"y":2.7},
    {"x":56.3,"y":2.2},{"x":56.7,"y":3.0},{"x":57.1,"y":2.6},{"x":57.5,"y":2.3},{"x":57.9,"y":2.8},
    {"x":0.1,"y":2.1},{"x":0.5,"y":2.4},{"x":0.9,"y":2.0},{"x":1.3,"y":2.6},{"x":1.7,"y":2.2},{"x":2.1,"y":2.3},{"x":2.5,"y":2.0},{"x":2.9,"y":2.5},{"x":3.3,"y":2.1},{"x":3.7,"y":2.4},
    {"x":4.1,"y":2.2},{"x":4.5,"y":2.0},{"x":4.9,"y":2.6},{"x":5.3,"y":2.3},{"x":5.7,"y":2.1},{"x":6.1,"y":2.4},{"x":6.5,"y":2.0},{"x":6.9,"y":2.5},{"x":7.3,"y":2.2},{"x":7.7,"y":2.7},
    {"x":8.1,"y":2.1},{"x":8.5,"y":2.3},{"x":8.9,"y":2.0},{"x":9.3,"y":2.4},{"x":9.7,"y":2.2},{"x":10.1,"y":2.5},{"x":10.5,"y":2.1},{"x":10.9,"y":2.0},{"x":11.3,"y":2.3},{"x":11.7,"y":2.6},
    {"x":12.1,"y":2.2},{"x":12.5,"y":2.4},{"x":12.9,"y":2.0},{"x":13.3,"y":2.1},{"x":13.7,"y":2.5},{"x":14.1,"y":2.3},{"x":14.5,"y":2.0},{"x":14.9,"y":2.2},{"x":15.3,"y":2.6},{"x":15.7,"y":2.1},
    {"x":16.1,"y":2.4},{"x":16.5,"y":2.0},{"x":16.9,"y":2.3},{"x":17.3,"y":2.5},{"x":17.7,"y":2.1},{"x":18.1,"y":2.2},{"x":18.5,"y":2.4},{"x":18.9,"y":2.0},{"x":19.3,"y":2.6},{"x":19.7,"y":2.3},
    {"x":20.1,"y":2.1},{"x":20.5,"y":2.5},{"x":20.9,"y":2.0},{"x":21.3,"y":2.2},{"x":21.7,"y":2.4},{"x":22.1,"y":2.1},{"x":22.5,"y":2.7},{"x":22.9,"y":2.0},{"x":23.3,"y":2.3},{"x":23.7,"y":2.2},
    {"x":24.1,"y":2.5},{"x":24.5,"y":2.1},{"x":24.9,"y":2.0},{"x":25.3,"y":2.4},{"x":25.7,"y":2.2},{"x":26.1,"y":2.6},{"x":26.5,"y":2.3},{"x":26.9,"y":2.0},{"x":27.3,"y":2.1},{"x":27.7,"y":2.5},
    {"x":28.1,"y":2.2},{"x":28.5,"y":2.4},{"x":28.9,"y":2.0},{"x":29.3,"y":2.3},{"x":29.7,"y":2.1},{"x":30.1,"y":2.6},{"x":30.5,"y":2.2},{"x":30.9,"y":2.0},{"x":31.3,"y":2.4},{"x":31.7,"y":2.1},
    {"x":32.1,"y":2.3},{"x":32.5,"y":2.5},{"x":32.9,"y":2.0},{"x":33.3,"y":2.2},{"x":33.7,"y":2.4},{"x":34.1,"y":2.1},{"x":34.5,"y":2.6},{"x":34.9,"y":2.0},{"x":35.3,"y":2.3},{"x":35.7,"y":2.2},
    {"x":36.1,"y":2.5},{"x":36.5,"y":2.0},{"x":36.9,"y":2.1},{"x":37.3,"y":2.4},{"x":37.7,"y":2.2},{"x":38.1,"y":2.3},{"x":38.5,"y":2.0},{"x":38.9,"y":2.6},{"x":39.3,"y":2.1},{"x":39.7,"y":2.4},
    {"x":40.1,"y":2.2},{"x":40.5,"y":2.0},{"x":40.9,"y":2.5},{"x":41.3,"y":2.3},{"x":41.7,"y":2.1},{"x":42.1,"y":2.4},{"x":42.5,"y":2.0},{"x":42.9,"y":2.2},{"x":43.3,"y":2.7},{"x":43.7,"y":2.1},
    {"x":44.1,"y":2.3},{"x":44.5,"y":2.0},{"x":44.9,"y":2.5},{"x":45.3,"y":2.2},{"x":45.7,"y":2.4},{"x":46.1,"y":2.1},{"x":46.5,"y":2.0},{"x":46.9,"y":2.6},{"x":47.3,"y":2.3},{"x":47.7,"y":2.2},
    {"x":48.1,"y":2.0},{"x":48.5,"y":2.4},{"x":48.9,"y":2.1},{"x":49.3,"y":2.5},{"x":49.7,"y":2.2},{"x":50.1,"y":2.0},{"x":50.5,"y":2.3},{"x":50.9,"y":2.6},{"x":51.3,"y":2.1},{"x":51.7,"y":2.4},
    {"x":52.1,"y":2.0},{"x":52.5,"y":2.2},{"x":52.9,"y":2.5},{"x":53.3,"y":2.1},{"x":53.7,"y":2.3},{"x":54.1,"y":2.0},{"x":54.5,"y":2.4},{"x":54.9,"y":2.2},{"x":55.3,"y":2.6},{"x":55.7,"y":2.1},
    {"x":56.1,"y":2.3},{"x":56.5,"y":2.0},{"x":56.9,"y":2.5},{"x":57.3,"y":2.2},{"x":57.7,"y":2.4},{"x":58.05,"y":2.1},
    {"x":0.4,"y":3.8},{"x":1.5,"y":3.5},{"x":2.6,"y":4.1},{"x":3.6,"y":3.7},{"x":4.7,"y":3.6},{"x":5.9,"y":3.9},{"x":6.9,"y":3.5},{"x":8.0,"y":3.8},{"x":9.2,"y":3.6},{"x":10.1,"y":4.0},
    {"x":11.3,"y":3.7},{"x":12.4,"y":3.5},{"x":13.5,"y":3.9},{"x":14.6,"y":3.6},{"x":15.8,"y":3.8},{"x":16.9,"y":3.5},{"x":18.0,"y":4.1},{"x":19.1,"y":3.7},{"x":20.2,"y":3.5},{"x":21.4,"y":3.8},
    {"x":22.5,"y":3.6},{"x":23.6,"y":4.0},{"x":24.8,"y":3.7},{"x":25.9,"y":3.5},{"x":27.0,"y":3.9},{"x":28.2,"y":3.6},{"x":29.3,"y":3.8},{"x":30.4,"y":3.5},{"x":31.6,"y":4.2},{"x":32.7,"y":3.7},
    {"x":33.8,"y":3.6},{"x":35.0,"y":3.9},{"x":36.3,"y":3.5},{"x":37.4,"y":4.0},{"x":38.6,"y":3.7},{"x":39.7,"y":3.6},{"x":40.8,"y":3.9},{"x":41.9,"y":3.5},{"x":43.0,"y":4.1},{"x":44.1,"y":3.7},
    {"x":45.2,"y":3.6},{"x":46.3,"y":3.8},{"x":47.4,"y":3.5},{"x":48.5,"y":4.0},{"x":49.6,"y":3.7},{"x":50.7,"y":3.9},{"x":51.8,"y":3.6},{"x":52.9,"y":4.2},{"x":54.0,"y":3.7},{"x":55.1,"y":3.5},
    {"x":56.2,"y":3.9},{"x":57.3,"y":3.6},
    {"x":0,"y":7.4},{"x":0.3,"y":5.0},{"x":1.4,"y":9.9},{"x":1.3,"y":4.5},{"x":2.2,"y":5.4},{"x":2.9,"y":8.7},{"x":3.1,"y":7.6},{"x":4.3,"y":6.8},{"x":5.5,"y":7.3},{"x":5.8,"y":5.6},
    {"x":5.0,"y":4.7},{"x":7.3,"y":5.4},{"x":7.0,"y":4.7},{"x":8.1,"y":4.3},{"x":9.5,"y":6.8},{"x":10.4,"y":4.95},{"x":11.2,"y":6.4},{"x":12.8,"y":7.1},{"x":13.2,"y":4.95},{"x":14.6,"y":6.5},
    {"x":16.5,"y":5.7},{"x":17.9,"y":6.4},{"x":19.4,"y":5.7},{"x":19.4,"y":5.4},{"x":21.9,"y":6.7},{"x":23.3,"y":6.8},{"x":24.7,"y":8.1},{"x":26.1,"y":5.7},{"x":26.7,"y":6.8},{"x":26.5,"y":4.7},
    {"x":27.7,"y":6.6},{"x":28.3,"y":5.4},{"x":29.1,"y":7.3},{"x":29.4,"y":6.4},{"x":30.0,"y":5.7},{"x":31.4,"y":5.6},{"x":32.0,"y":4.0},{"x":34.0,"y":5.8},{"x":34.9,"y":4.95},{"x":36.6,"y":7.1},
    {"x":36.2,"y":4.5},{"x":38.9,"y":5.9},{"x":39.1,"y":6.4},{"x":40.2,"y":5.9},{"x":40.8,"y":9.1},{"x":40.8,"y":7.3},{"x":41.5,"y":4.95},{"x":43.1,"y":5.4},{"x":43.8,"y":6.6},{"x":44.0,"y":6.7},
    {"x":45.8,"y":4.7},{"x":46.0,"y":5.4},{"x":46.6,"y":8.0},{"x":47.96,"y":4.5},{"x":48.8,"y":5.8},{"x":50.1,"y":4.7},{"x":51.1,"y":6.1},{"x":51.8,"y":10.6},{"x":51.8,"y":9.1},{"x":52.6,"y":8.2},
    {"x":52.9,"y":6.9},{"x":53.1,"y":5.9},{"x":53.6,"y":8.9},{"x":54.4,"y":6.1},{"x":55.0,"y":8.0},{"x":55.4,"y":6.6},{"x":55.5,"y":5.2},{"x":56.7,"y":6.4},{"x":58.05,"y":9.0},{"x":58.05,"y":4.95}
  ],
  "p3d": [
    {"x":0.1,"y":-2.9},{"x":0.5,"y":-2.5},{"x":0.9,"y":-3.2},{"x":1.3,"y":-2.2},{"x":1.7,"y":-2.7},{"x":2.1,"y":-2.3},{"x":2.5,"y":-3.0},{"x":2.9,"y":-2.1},{"x":3.3,"y":-2.8},{"x":3.7,"y":-2.4},
    {"x":4.1,"y":-3.4},{"x":4.5,"y":-2.6},{"x":4.9,"y":-2.0},{"x":5.3,"y":-2.9},{"x":5.7,"y":-2.2},{"x":6.1,"y":-3.1},{"x":6.5,"y":-2.5},{"x":6.9,"y":-2.7},{"x":7.3,"y":-2.3},{"x":7.7,"y":-3.2},
    {"x":8.1,"y":-2.1},{"x":8.5,"y":-2.8},{"x":8.9,"y":-2.4},{"x":9.3,"y":-3.0},{"x":9.7,"y":-2.0},{"x":10.1,"y":-2.6},{"x":10.5,"y":-2.2},{"x":10.9,"y":-3.3},{"x":11.3,"y":-2.5},{"x":11.7,"y":-2.9},
    {"x":12.1,"y":-2.3},{"x":12.5,"y":-3.1},{"x":12.9,"y":-2.1},{"x":13.3,"y":-2.7},{"x":13.7,"y":-2.4},{"x":14.1,"y":-3.2},{"x":14.5,"y":-2.6},{"x":14.9,"y":-2.0},{"x":15.3,"y":-3.0},{"x":15.7,"y":-2.8},
    {"x":16.1,"y":-2.2},{"x":16.5,"y":-2.9},{"x":16.9,"y":-2.3},{"x":17.3,"y":-3.4},{"x":17.7,"y":-2.1},{"x":18.1,"y":-2.6},{"x":18.5,"y":-2.5},{"x":18.9,"y":-3.1},{"x":19.3,"y":-2.0},{"x":19.7,"y":-2.7},
    {"x":20.1,"y":-2.4},{"x":20.5,"y":-3.2},{"x":20.9,"y":-2.2},{"x":21.3,"y":-2.8},{"x":21.7,"y":-2.3},{"x":22.1,"y":-3.0},{"x":22.5,"y":-2.6},{"x":22.9,"y":-2.1},{"x":23.3,"y":-3.3},{"x":23.7,"y":-2.0},
    {"x":24.1,"y":-2.7},{"x":24.5,"y":-2.2},{"x":24.9,"y":-3.1},{"x":25.3,"y":-2.4},{"x":25.7,"y":-2.6},{"x":26.1,"y":-1.9},{"x":26.5,"y":-3.2},{"x":26.9,"y":-2.3},{"x":27.3,"y":-2.8},{"x":27.7,"y":-2.1},
    {"x":28.1,"y":-3.0},{"x":28.5,"y":-2.5},{"x":28.9,"y":-2.7},{"x":29.3,"y":-2.0},{"x":29.7,"y":-3.4},{"x":30.1,"y":-2.4},{"x":30.5,"y":-2.9},{"x":30.9,"y":-2.2},{"x":31.3,"y":-3.1},{"x":31.7,"y":-2.6},
    {"x":32.1,"y":-2.1},{"x":32.5,"y":-2.8},{"x":32.9,"y":-2.3},{"x":33.3,"y":-3.2},{"x":33.7,"y":-2.0},{"x":34.1,"y":-3.0},{"x":34.5,"y":-2.6},{"x":34.9,"y":-2.2},{"x":35.3,"y":-2.9},{"x":35.7,"y":-2.5},
    {"x":36.1,"y":-3.3},{"x":36.5,"y":-2.1},{"x":36.9,"y":-2.7},{"x":37.3,"y":-2.4},{"x":37.7,"y":-3.1},{"x":38.1,"y":-2.0},{"x":38.5,"y":-2.8},{"x":38.9,"y":-2.2},{"x":39.3,"y":-3.2},{"x":39.7,"y":-2.3},
    {"x":40.1,"y":-2.6},{"x":40.5,"y":-1.9},{"x":40.9,"y":-3.0},{"x":41.3,"y":-2.5},{"x":41.7,"y":-2.7},{"x":42.1,"y":-2.1},{"x":42.5,"y":-3.4},{"x":42.9,"y":-2.4},{"x":43.3,"y":-2.9},{"x":43.7,"y":-2.2},
    {"x":44.1,"y":-3.1},{"x":44.5,"y":-2.3},{"x":44.9,"y":-2.6},{"x":45.3,"y":-2.0},{"x":45.7,"y":-3.2},{"x":46.1,"y":-2.5},{"x":46.5,"y":-2.8},{"x":46.9,"y":-2.1},{"x":47.3,"y":-3.0},{"x":47.7,"y":-2.4},
    {"x":48.1,"y":-2.7},{"x":48.5,"y":-2.2},{"x":48.9,"y":-3.3},{"x":49.3,"y":-2.6},{"x":49.7,"y":-2.0},{"x":50.1,"y":-2.9},{"x":50.5,"y":-2.3},{"x":50.9,"y":-3.1},{"x":51.3,"y":-2.1},{"x":51.7,"y":-2.6},
    {"x":52.1,"y":-3.4},{"x":52.5,"y":-2.8},{"x":52.9,"y":-2.2},{"x":53.3,"y":-3.0},{"x":53.7,"y":-2.5},{"x":54.1,"y":-2.7},{"x":54.5,"y":-1.9},{"x":54.9,"y":-3.2},{"x":55.3,"y":-2.3},{"x":55.7,"y":-2.9},
    {"x":56.1,"y":-2.4},{"x":56.5,"y":-2.6},{"x":56.9,"y":-3.0},{"x":57.3,"y":-2.2},{"x":57.7,"y":-2.8},
    {"x":0.3,"y":-2.2},{"x":0.7,"y":-2.0},{"x":1.1,"y":-2.5},{"x":1.5,"y":-2.1},{"x":1.9,"y":-2.3},{"x":2.3,"y":-2.6},{"x":2.7,"y":-2.0},{"x":3.1,"y":-2.4},{"x":3.5,"y":-2.2},{"x":3.9,"y":-2.7},
    {"x":4.3,"y":-2.1},{"x":4.7,"y":-2.3},{"x":5.1,"y":-2.0},{"x":5.5,"y":-2.5},{"x":5.9,"y":-2.2},{"x":6.3,"y":-2.4},{"x":6.7,"y":-2.1},{"x":7.1,"y":-2.6},{"x":7.5,"y":-2.3},{"x":7.9,"y":-2.0},
    {"x":8.3,"y":-2.4},{"x":8.7,"y":-2.2},{"x":9.1,"y":-2.1},{"x":9.5,"y":-2.5},{"x":9.9,"y":-2.0},{"x":10.3,"y":-2.3},{"x":10.7,"y":-2.6},{"x":11.1,"y":-2.2},{"x":11.5,"y":-2.1},{"x":11.9,"y":-2.4},
    {"x":12.3,"y":-2.0},{"x":12.7,"y":-2.5},{"x":13.1,"y":-2.3},{"x":13.5,"y":-2.1},{"x":13.9,"y":-2.7},{"x":14.3,"y":-2.2},{"x":14.7,"y":-2.0},{"x":15.1,"y":-2.4},{"x":15.5,"y":-2.3},{"x":15.9,"y":-2.1},
    {"x":16.3,"y":-2.5},{"x":16.7,"y":-2.2},{"x":17.1,"y":-2.0},{"x":17.5,"y":-2.6},{"x":17.9,"y":-2.1},{"x":18.3,"y":-2.3},{"x":18.7,"y":-2.4},{"x":19.1,"y":-2.0},{"x":19.5,"y":-2.2},{"x":19.9,"y":-2.5},
    {"x":20.3,"y":-2.1},{"x":20.7,"y":-2.3},{"x":21.1,"y":-2.0},{"x":21.5,"y":-2.6},{"x":21.9,"y":-2.2},{"x":22.3,"y":-2.4},{"x":22.7,"y":-2.1},{"x":23.1,"y":-2.0},{"x":23.5,"y":-2.5},{"x":23.9,"y":-2.3},
    {"x":24.3,"y":-2.2},{"x":24.7,"y":-2.7},{"x":25.1,"y":-2.1},{"x":25.5,"y":-2.0},{"x":25.9,"y":-2.4},{"x":26.3,"y":-2.2},{"x":26.7,"y":-2.3},{"x":27.1,"y":-2.5},{"x":27.5,"y":-2.0},{"x":27.9,"y":-2.1},
    {"x":28.3,"y":-2.6},{"x":28.7,"y":-2.2},{"x":29.1,"y":-2.4},{"x":29.5,"y":-2.0},{"x":29.9,"y":-2.3},{"x":30.3,"y":-2.1},{"x":30.7,"y":-2.5},{"x":31.1,"y":-2.2},{"x":31.5,"y":-2.0},{"x":31.9,"y":-2.4},
    {"x":32.3,"y":-2.6},{"x":32.7,"y":-2.1},{"x":33.1,"y":-2.3},{"x":33.5,"y":-2.0},{"x":33.9,"y":-2.2},{"x":34.3,"y":-2.5},{"x":34.7,"y":-2.1},{"x":35.1,"y":-2.4},{"x":35.5,"y":-2.0},{"x":35.9,"y":-2.3},
    {"x":36.3,"y":-2.7},{"x":36.7,"y":-2.2},{"x":37.1,"y":-2.1},{"x":37.5,"y":-2.5},{"x":37.9,"y":-2.0},{"x":38.3,"y":-2.3},{"x":38.7,"y":-2.4},{"x":39.1,"y":-2.1},{"x":39.5,"y":-2.2},{"x":39.9,"y":-2.6},
    {"x":40.3,"y":-2.0},{"x":40.7,"y":-2.3},{"x":41.1,"y":-2.5},{"x":41.5,"y":-2.1},{"x":41.9,"y":-2.2},{"x":42.3,"y":-2.4},{"x":42.7,"y":-2.0},{"x":43.1,"y":-2.6},{"x":43.5,"y":-2.3},{"x":43.9,"y":-2.1},
    {"x":44.3,"y":-2.2},{"x":44.7,"y":-2.5},{"x":45.1,"y":-2.0},{"x":45.5,"y":-2.4},{"x":45.9,"y":-2.1},{"x":46.3,"y":-2.3},{"x":46.7,"y":-2.6},{"x":47.1,"y":-2.2},{"x":47.5,"y":-2.0},{"x":47.9,"y":-2.5},
    {"x":48.3,"y":-2.1},{"x":48.7,"y":-2.4},{"x":49.1,"y":-2.3},{"x":49.5,"y":-2.0},{"x":49.9,"y":-2.2},{"x":50.3,"y":-2.7},{"x":50.7,"y":-2.1},{"x":51.1,"y":-2.3},{"x":51.5,"y":-2.5},{"x":51.9,"y":-2.0},
    {"x":52.3,"y":-2.4},{"x":52.7,"y":-2.2},{"x":53.1,"y":-2.1},{"x":53.5,"y":-2.6},{"x":53.9,"y":-2.3},{"x":54.3,"y":-2.0},{"x":54.7,"y":-2.4},{"x":55.1,"y":-2.2},{"x":55.5,"y":-2.5},{"x":55.9,"y":-2.1},
    {"x":56.3,"y":-2.3},{"x":56.7,"y":-2.0},{"x":57.1,"y":-2.4},{"x":57.5,"y":-2.2},{"x":57.9,"y":-2.6},
    {"x":0.2,"y":-4.0},{"x":1.0,"y":-4.6},{"x":1.8,"y":-3.6},{"x":2.6,"y":-5.1},{"x":3.4,"y":-4.2},{"x":4.2,"y":-3.8},{"x":5.0,"y":-4.9},{"x":5.8,"y":-3.7},{"x":6.6,"y":-4.4},{"x":7.4,"y":-5.3},
    {"x":8.2,"y":-3.9},{"x":9.0,"y":-4.3},{"x":9.8,"y":-3.6},{"x":10.6,"y":-4.8},{"x":11.4,"y":-4.0},{"x":12.2,"y":-3.7},{"x":13.0,"y":-5.0},{"x":13.8,"y":-4.1},{"x":14.6,"y":-3.8},{"x":15.4,"y":-4.5},
    {"x":16.2,"y":-3.6},{"x":17.0,"y":-4.7},{"x":17.8,"y":-4.0},{"x":18.6,"y":-3.8},{"x":19.4,"y":-5.2},{"x":20.2,"y":-4.3},{"x":21.0,"y":-3.7},{"x":21.8,"y":-4.6},{"x":22.6,"y":-3.9},{"x":23.4,"y":-4.4},
    {"x":24.2,"y":-3.6},{"x":25.0,"y":-5.0},{"x":25.8,"y":-4.1},{"x":26.6,"y":-3.8},{"x":27.4,"y":-4.5},{"x":28.2,"y":-3.7},{"x":29.0,"y":-4.8},{"x":29.8,"y":-4.0},{"x":30.6,"y":-3.6},{"x":31.4,"y":-4.3},
    {"x":32.2,"y":-5.1},{"x":33.0,"y":-3.9},{"x":33.8,"y":-4.2},{"x":34.6,"y":-3.7},{"x":35.4,"y":-4.6},{"x":36.2,"y":-4.0},{"x":37.0,"y":-3.8},{"x":37.8,"y":-5.0},{"x":38.6,"y":-4.4},{"x":39.4,"y":-3.6},
    {"x":40.2,"y":-4.7},{"x":41.0,"y":-4.1},{"x":41.8,"y":-3.8},{"x":42.6,"y":-5.3},{"x":43.4,"y":-4.2},{"x":44.2,"y":-3.7},{"x":45.0,"y":-4.9},{"x":45.8,"y":-4.0},{"x":46.6,"y":-3.6},{"x":47.4,"y":-4.5},
    {"x":48.2,"y":-5.1},{"x":49.0,"y":-3.9},{"x":49.8,"y":-4.3},{"x":50.6,"y":-3.7},{"x":51.4,"y":-4.8},{"x":52.2,"y":-4.1},{"x":53.0,"y":-3.6},{"x":53.8,"y":-5.0},{"x":54.6,"y":-4.4},{"x":55.4,"y":-3.8},
    {"x":56.2,"y":-4.6},{"x":57.0,"y":-4.0},{"x":57.8,"y":-5.2},
    {"x":0.1,"y":-6.0},{"x":0.2,"y":-8.2},{"x":0.3,"y":-10.4},{"x":0.35,"y":-11.6},{"x":0.4,"y":-12.2},{"x":0.7,"y":-7.0},{"x":1.0,"y":-9.1},{"x":1.3,"y":-5.6},{"x":1.6,"y":-6.8},{"x":1.9,"y":-8.0},
    {"x":2.2,"y":-10.2},{"x":2.5,"y":-7.4},{"x":2.8,"y":-11.5},{"x":3.1,"y":-6.2},{"x":3.4,"y":-8.9},{"x":3.7,"y":-5.3},{"x":4.0,"y":-9.8},{"x":4.3,"y":-7.6},{"x":4.6,"y":-11.0},{"x":4.9,"y":-6.5},
    {"x":5.2,"y":-10.6},{"x":5.5,"y":-8.4},{"x":5.8,"y":-5.9},{"x":6.1,"y":-9.3},{"x":6.4,"y":-7.1},{"x":6.7,"y":-11.8},{"x":7.0,"y":-6.0},{"x":7.3,"y":-8.7},{"x":7.6,"y":-5.4},{"x":8.0,"y":-10.0},
    {"x":8.3,"y":-7.3},{"x":8.9,"y":-6.3},{"x":9.5,"y":-8.6},{"x":10.2,"y":-5.7},{"x":10.8,"y":-12.0},{"x":11.3,"y":-7.0},{"x":11.9,"y":-9.9},{"x":12.5,"y":-6.1},{"x":13.1,"y":-11.2},{"x":13.7,"y":-5.5},
    {"x":14.3,"y":-8.2},{"x":14.9,"y":-6.8},{"x":15.5,"y":-10.5},{"x":16.1,"y":-5.9},{"x":16.7,"y":-8.0},{"x":17.3,"y":-11.6},{"x":17.9,"y":-6.6},{"x":18.6,"y":-9.4},{"x":19.2,"y":-5.8},{"x":19.8,"y":-11.9},
    {"x":20.4,"y":-7.2},{"x":21.0,"y":-5.4},{"x":21.6,"y":-8.8},{"x":22.2,"y":-12.3},{"x":22.8,"y":-6.4},{"x":23.4,"y":-10.1},{"x":24.0,"y":-7.5},{"x":24.6,"y":-11.4},{"x":25.2,"y":-5.6},{"x":25.8,"y":-9.0},
    {"x":26.4,"y":-6.9},{"x":26.9,"y":-10.7},{"x":27.6,"y":-6.2},{"x":28.3,"y":-9.1},{"x":29.0,"y":-5.5},{"x":29.8,"y":-11.9},{"x":30.6,"y":-7.3},{"x":31.4,"y":-5.8},{"x":32.2,"y":-9.6},{"x":33.0,"y":-6.6},
    {"x":33.8,"y":-10.8},{"x":34.6,"y":-7.8},{"x":35.4,"y":-5.2},{"x":36.1,"y":-7.0},{"x":36.8,"y":-10.2},{"x":37.5,"y":-5.8},{"x":38.2,"y":-8.6},{"x":39.0,"y":-6.3},{"x":39.8,"y":-8.0},{"x":40.1,"y":-11.2},
    {"x":40.4,"y":-6.2},{"x":40.7,"y":-12.6},{"x":41.0,"y":-9.0},{"x":41.3,"y":-5.6},{"x":41.6,"y":-10.5},{"x":41.9,"y":-7.4},{"x":42.2,"y":-12.2},{"x":42.5,"y":-6.5},{"x":42.8,"y":-9.6},{"x":43.1,"y":-11.8},
    {"x":43.4,"y":-5.9},{"x":43.7,"y":-8.4},{"x":44.0,"y":-12.7},{"x":44.3,"y":-7.0},{"x":44.6,"y":-10.0},{"x":44.9,"y":-6.1},{"x":45.2,"y":-11.5},{"x":45.5,"y":-8.7},{"x":45.8,"y":-5.5},{"x":46.1,"y":-12.4},
    {"x":46.4,"y":-7.6},{"x":46.7,"y":-9.8},{"x":47.0,"y":-6.4},{"x":47.3,"y":-11.0},{"x":47.6,"y":-8.2},{"x":47.9,"y":-12.5},{"x":48.2,"y":-6.8},{"x":48.5,"y":-9.3},{"x":48.8,"y":-5.7},{"x":49.3,"y":-7.7},
    {"x":49.6,"y":-10.9},{"x":49.9,"y":-6.0},{"x":50.2,"y":-12.1},{"x":50.5,"y":-8.5},{"x":50.8,"y":-5.4},{"x":51.1,"y":-9.9},{"x":51.4,"y":-11.6},{"x":51.7,"y":-7.1},{"x":52.0,"y":-6.2},{"x":52.3,"y":-12.4},
    {"x":52.6,"y":-8.9},{"x":52.9,"y":-5.8},{"x":53.2,"y":-10.4},{"x":53.5,"y":-7.4},{"x":53.8,"y":-11.9},{"x":54.1,"y":-6.6},{"x":54.4,"y":-9.2},{"x":54.7,"y":-12.2},{"x":55.0,"y":-5.5},{"x":55.3,"y":-8.0},
    {"x":55.6,"y":-10.8},{"x":55.9,"y":-6.9},{"x":56.2,"y":-11.3},{"x":56.5,"y":-7.9},{"x":56.8,"y":-5.9},{"x":57.1,"y":-9.7},{"x":57.4,"y":-12.0},{"x":57.7,"y":-6.4},{"x":58.0,"y":-8.3}
  ],
  "genes": [
    {"x":0.1,"n":38,"lg":"LG1"},{"x":0.4,"n":43,"lg":"LG1"},{"x":0.7,"n":37,"lg":"LG1"},{"x":1.0,"n":44,"lg":"LG1"},{"x":1.3,"n":36,"lg":"LG1"},{"x":1.6,"n":42,"lg":"LG1"},{"x":1.9,"n":37,"lg":"LG1"},{"x":2.2,"n":40,"lg":"LG1"},{"x":2.5,"n":34,"lg":"LG1"},{"x":2.7,"n":21,"lg":"LG1"},
    {"x":3.0,"n":42,"lg":"LG1"},{"x":3.3,"n":33,"lg":"LG1"},{"x":3.6,"n":45,"lg":"LG1"},{"x":3.9,"n":28,"lg":"LG1"},{"x":4.2,"n":40,"lg":"LG1"},{"x":4.5,"n":36,"lg":"LG1"},{"x":4.8,"n":46,"lg":"LG1"},{"x":5.1,"n":33,"lg":"LG1"},{"x":5.4,"n":44,"lg":"LG1"},{"x":5.7,"n":27,"lg":"LG1"},
    {"x":6.0,"n":46,"lg":"LG1"},{"x":6.3,"n":37,"lg":"LG1"},{"x":6.6,"n":36,"lg":"LG1"},{"x":6.9,"n":32,"lg":"LG1"},{"x":7.2,"n":41,"lg":"LG1"},{"x":7.5,"n":36,"lg":"LG1"},{"x":7.8,"n":33,"lg":"LG1"},{"x":8.1,"n":30,"lg":"LG1"},{"x":8.3,"n":22,"lg":"LG1"},{"x":8.45,"n":45,"lg":"LG1"},
    {"x":8.7,"n":30,"lg":"LG2"},{"x":9.0,"n":37,"lg":"LG2"},{"x":9.3,"n":32,"lg":"LG2"},{"x":9.6,"n":40,"lg":"LG2"},{"x":9.9,"n":33,"lg":"LG2"},{"x":10.2,"n":38,"lg":"LG2"},{"x":10.5,"n":33,"lg":"LG2"},{"x":10.8,"n":34,"lg":"LG2"},{"x":11.1,"n":36,"lg":"LG2"},{"x":11.4,"n":33,"lg":"LG2"},
    {"x":11.7,"n":34,"lg":"LG2"},{"x":12.0,"n":36,"lg":"LG2"},{"x":12.3,"n":28,"lg":"LG2"},{"x":12.6,"n":44,"lg":"LG2"},{"x":12.9,"n":30,"lg":"LG2"},{"x":13.2,"n":46,"lg":"LG2"},{"x":13.5,"n":26,"lg":"LG2"},{"x":13.8,"n":40,"lg":"LG2"},{"x":14.1,"n":34,"lg":"LG2"},{"x":14.4,"n":49,"lg":"LG2"},
    {"x":14.7,"n":32,"lg":"LG2"},{"x":15.0,"n":44,"lg":"LG2"},{"x":15.3,"n":30,"lg":"LG2"},{"x":15.6,"n":38,"lg":"LG2"},{"x":15.9,"n":27,"lg":"LG2"},{"x":16.2,"n":36,"lg":"LG2"},{"x":16.5,"n":40,"lg":"LG2"},{"x":16.8,"n":29,"lg":"LG2"},{"x":17.1,"n":38,"lg":"LG2"},{"x":17.4,"n":35,"lg":"LG2"},
    {"x":17.7,"n":44,"lg":"LG2"},{"x":18.0,"n":40,"lg":"LG2"},{"x":18.12,"n":42,"lg":"LG2"},
    {"x":18.35,"n":45,"lg":"LG3"},{"x":18.6,"n":35,"lg":"LG3"},{"x":18.9,"n":52,"lg":"LG3"},{"x":19.2,"n":42,"lg":"LG3"},{"x":19.5,"n":30,"lg":"LG3"},{"x":19.8,"n":50,"lg":"LG3"},{"x":20.1,"n":40,"lg":"LG3"},{"x":20.4,"n":55,"lg":"LG3"},{"x":20.7,"n":33,"lg":"LG3"},{"x":21.0,"n":46,"lg":"LG3"},
    {"x":21.3,"n":38,"lg":"LG3"},{"x":21.6,"n":26,"lg":"LG3"},{"x":21.9,"n":44,"lg":"LG3"},{"x":22.2,"n":18,"lg":"LG3"},{"x":22.5,"n":36,"lg":"LG3"},{"x":22.8,"n":30,"lg":"LG3"},{"x":23.1,"n":49,"lg":"LG3"},{"x":23.4,"n":38,"lg":"LG3"},{"x":23.7,"n":55,"lg":"LG3"},{"x":24.0,"n":40,"lg":"LG3"},
    {"x":24.3,"n":59,"lg":"LG3"},{"x":24.6,"n":45,"lg":"LG3"},{"x":24.9,"n":35,"lg":"LG3"},{"x":25.2,"n":50,"lg":"LG3"},{"x":25.5,"n":30,"lg":"LG3"},{"x":25.8,"n":46,"lg":"LG3"},{"x":26.1,"n":39,"lg":"LG3"},{"x":26.4,"n":50,"lg":"LG3"},{"x":26.7,"n":33,"lg":"LG3"},{"x":26.95,"n":42,"lg":"LG3"},
    {"x":27.2,"n":33,"lg":"LG4"},{"x":27.5,"n":44,"lg":"LG4"},{"x":27.8,"n":36,"lg":"LG4"},{"x":28.1,"n":45,"lg":"LG4"},{"x":28.4,"n":30,"lg":"LG4"},{"x":28.7,"n":46,"lg":"LG4"},{"x":29.0,"n":40,"lg":"LG4"},{"x":29.3,"n":24,"lg":"LG4"},{"x":29.6,"n":38,"lg":"LG4"},{"x":29.9,"n":32,"lg":"LG4"},
    {"x":30.2,"n":47,"lg":"LG4"},{"x":30.5,"n":30,"lg":"LG4"},{"x":30.8,"n":52,"lg":"LG4"},{"x":31.1,"n":36,"lg":"LG4"},{"x":31.4,"n":43,"lg":"LG4"},{"x":31.7,"n":27,"lg":"LG4"},{"x":32.0,"n":45,"lg":"LG4"},{"x":32.3,"n":36,"lg":"LG4"},{"x":32.6,"n":52,"lg":"LG4"},{"x":32.9,"n":38,"lg":"LG4"},
    {"x":33.2,"n":42,"lg":"LG4"},{"x":33.5,"n":29,"lg":"LG4"},{"x":33.8,"n":44,"lg":"LG4"},{"x":34.1,"n":37,"lg":"LG4"},{"x":34.4,"n":40,"lg":"LG4"},{"x":34.7,"n":33,"lg":"LG4"},{"x":35.0,"n":41,"lg":"LG4"},{"x":35.3,"n":34,"lg":"LG4"},{"x":35.6,"n":37,"lg":"LG4"},{"x":35.8,"n":31,"lg":"LG4"},
    {"x":36.05,"n":35,"lg":"LG5"},{"x":36.3,"n":26,"lg":"LG5"},{"x":36.6,"n":30,"lg":"LG5"},{"x":36.9,"n":45,"lg":"LG5"},{"x":37.2,"n":22,"lg":"LG5"},{"x":37.5,"n":40,"lg":"LG5"},{"x":37.8,"n":30,"lg":"LG5"},{"x":38.1,"n":18,"lg":"LG5"},{"x":38.4,"n":45,"lg":"LG5"},{"x":38.7,"n":28,"lg":"LG5"},
    {"x":39.0,"n":47,"lg":"LG5"},{"x":39.3,"n":38,"lg":"LG5"},{"x":39.45,"n":10,"lg":"LG5"},
    {"x":39.7,"n":30,"lg":"LG6"},{"x":40.0,"n":45,"lg":"LG6"},{"x":40.3,"n":32,"lg":"LG6"},{"x":40.6,"n":47,"lg":"LG6"},{"x":40.9,"n":33,"lg":"LG6"},{"x":41.2,"n":49,"lg":"LG6"},{"x":41.5,"n":30,"lg":"LG6"},{"x":41.8,"n":42,"lg":"LG6"},{"x":42.1,"n":56,"lg":"LG6"},{"x":42.4,"n":36,"lg":"LG6"},
    {"x":42.7,"n":25,"lg":"LG6"},{"x":43.0,"n":48,"lg":"LG6"},{"x":43.3,"n":38,"lg":"LG6"},{"x":43.6,"n":58,"lg":"LG6"},{"x":43.9,"n":30,"lg":"LG6"},{"x":44.2,"n":46,"lg":"LG6"},{"x":44.5,"n":20,"lg":"LG6"},{"x":44.8,"n":44,"lg":"LG6"},{"x":45.1,"n":59,"lg":"LG6"},{"x":45.4,"n":35,"lg":"LG6"},
    {"x":45.7,"n":48,"lg":"LG6"},{"x":46.0,"n":30,"lg":"LG6"},{"x":46.3,"n":52,"lg":"LG6"},{"x":46.6,"n":38,"lg":"LG6"},{"x":46.9,"n":57,"lg":"LG6"},{"x":47.2,"n":33,"lg":"LG6"},{"x":47.5,"n":44,"lg":"LG6"},{"x":47.8,"n":30,"lg":"LG6"},{"x":48.1,"n":50,"lg":"LG6"},{"x":48.4,"n":40,"lg":"LG6"},
    {"x":48.7,"n":46,"lg":"LG6"},{"x":49.0,"n":12,"lg":"LG6"},
    {"x":49.25,"n":27,"lg":"LG7"},{"x":49.5,"n":31,"lg":"LG7"},{"x":49.8,"n":28,"lg":"LG7"},{"x":50.1,"n":33,"lg":"LG7"},{"x":50.4,"n":30,"lg":"LG7"},{"x":50.7,"n":35,"lg":"LG7"},{"x":51.0,"n":38,"lg":"LG7"},{"x":51.3,"n":33,"lg":"LG7"},{"x":51.6,"n":43,"lg":"LG7"},{"x":51.9,"n":36,"lg":"LG7"},
    {"x":52.2,"n":40,"lg":"LG7"},{"x":52.5,"n":32,"lg":"LG7"},{"x":52.8,"n":26,"lg":"LG7"},{"x":53.1,"n":44,"lg":"LG7"},{"x":53.4,"n":38,"lg":"LG7"},{"x":53.7,"n":33,"lg":"LG7"},{"x":54.0,"n":46,"lg":"LG7"},{"x":54.3,"n":37,"lg":"LG7"},{"x":54.6,"n":20,"lg":"LG7"},{"x":54.9,"n":43,"lg":"LG7"},
    {"x":55.2,"n":39,"lg":"LG7"},{"x":55.5,"n":45,"lg":"LG7"},{"x":55.8,"n":38,"lg":"LG7"},{"x":56.1,"n":40,"lg":"LG7"},{"x":56.4,"n":49,"lg":"LG7"},{"x":56.7,"n":42,"lg":"LG7"},{"x":57.0,"n":38,"lg":"LG7"},{"x":57.3,"n":52,"lg":"LG7"},{"x":57.6,"n":36,"lg":"LG7"},{"x":57.95,"n":50,"lg":"LG7"}
  ]
},
"vconcat": [
  {
    "width": 743, "height": 591,
    "encoding": {
      "x": {"field": "x", "type": "quantitative", "scale": {"domain": [72, 815], "nice": false, "zero": false}, "axis": null},
      "y": {"field": "y", "type": "quantitative", "scale": {"domain": [0, 591], "nice": false, "zero": false, "reverse": true}, "axis": null}
    },
    "layer": [
      {"data": {"name": "ell"}, "transform": [{"filter": "datum.e == 'g'"}],
       "mark": {"type": "point", "shape": "M 1 0 C 1 0.0843 0.5523 0.1522 0 0.1522 C -0.5523 0.1522 -1 0.0843 -1 0 C -1 -0.0843 -0.5523 -0.1522 0 -0.1522 C 0.5523 -0.1522 1 -0.0843 1 0 Z", "size": 33856, "angle": 19, "filled": true, "fill": "#8ccd64", "opacity": 1, "fillOpacity": 1, "stroke": "#666", "strokeWidth": 0.6, "strokeOpacity": 0.5}},
      {"data": {"name": "ell"}, "transform": [{"filter": "datum.e == 'p'"}],
       "mark": {"type": "point", "shape": "M 1 0 C 1 0.4131 0.5523 0.748 0 0.748 C -0.5523 0.748 -1 0.4131 -1 0 C -1 -0.4131 -0.5523 -0.748 0 -0.748 C 0.5523 -0.748 1 -0.4131 1 0 Z", "size": 258064, "angle": -28.8, "filled": true, "fill": "#6102ed", "opacity": 1, "fillOpacity": 0.55, "stroke": "#666", "strokeWidth": 0.8, "strokeOpacity": 0.6}},
      {"data": {"name": "ell"}, "transform": [{"filter": "datum.e == 'o'"}],
       "mark": {"type": "point", "shape": "M 1 0 C 1 0.5523 0.5523 1 0 1 C -0.5523 1 -1 0.5523 -1 0 C -1 -0.5523 -0.5523 -1 0 -1 C 0.5523 -1 1 -0.5523 1 0 Z", "size": 222784, "filled": true, "fill": "#f08333", "opacity": 1, "fillOpacity": 0.55, "stroke": "#666", "strokeWidth": 0.8, "strokeOpacity": 0.6}},
      {"data": {"name": "vline"}, "mark": {"type": "line", "color": "#444", "strokeWidth": 0.9}, "encoding": {"detail": {"field": "id", "type": "nominal"}, "order": {"field": "o", "type": "quantitative"}}},
      {"data": {"name": "vtext"}, "transform": [{"filter": "datum.r == 'panel'"}], "mark": {"type": "text", "align": "left", "baseline": "middle", "font": "Liberation Sans", "fontWeight": "bold", "fontSize": 20, "color": "#000"}, "encoding": {"text": {"field": "t"}}},
      {"data": {"name": "vtext"}, "transform": [{"filter": "datum.r == 'lab'"}], "mark": {"type": "text", "align": "left", "baseline": "middle", "font": "DejaVu Sans", "fontSize": 14, "color": "#222"}, "encoding": {"text": {"field": "t"}}},
      {"data": {"name": "vtext"}, "transform": [{"filter": "datum.r == 'labit'"}], "mark": {"type": "text", "align": "left", "baseline": "middle", "font": "DejaVu Sans", "fontStyle": "italic", "fontSize": 14, "color": "#222"}, "encoding": {"text": {"field": "t"}}},
      {"data": {"name": "vtext"}, "transform": [{"filter": "datum.r == 'cnt'"}], "mark": {"type": "text", "align": "center", "baseline": "middle", "font": "DejaVu Sans Condensed, DejaVu Sans", "fontSize": 22, "color": "#111"}, "encoding": {"text": {"field": "t"}}},
      {"data": {"name": "vtext"}, "transform": [{"filter": "datum.r == 'big'"}], "mark": {"type": "text", "align": "center", "baseline": "middle", "font": "DejaVu Sans Condensed, DejaVu Sans", "fontSize": 35, "color": "#000"}, "encoding": {"text": {"field": "t"}}},
      {"data": {"name": "vtext"}, "transform": [{"filter": "datum.r == 'mid'"}], "mark": {"type": "text", "align": "center", "baseline": "middle", "font": "DejaVu Sans Condensed, DejaVu Sans", "fontSize": 25, "color": "#000"}, "encoding": {"text": {"field": "t"}}},
      {"data": {"name": "vtext"}, "transform": [{"filter": "datum.r == 'sm'"}], "mark": {"type": "text", "align": "center", "baseline": "middle", "font": "DejaVu Sans Condensed, DejaVu Sans", "fontSize": 20, "color": "#000"}, "encoding": {"text": {"field": "t"}}},
      {"data": {"name": "vtext"}, "transform": [{"filter": "datum.r == 'xs'"}], "mark": {"type": "text", "align": "center", "baseline": "middle", "font": "DejaVu Sans Condensed, DejaVu Sans", "fontSize": 15, "color": "#000"}, "encoding": {"text": {"field": "t"}}}
    ]
  },
  {
    "width": 501, "height": 185,
    "title": {"text": "Converted females versus females", "anchor": "start", "frame": "group", "dx": -50, "offset": 10, "fontSize": 20, "fontWeight": "bold", "font": "Liberation Sans", "color": "#000"},
    "encoding": {"x": {"field": "x", "type": "quantitative", "scale": {"domain": [0, 58.15], "nice": false, "zero": false},
      "axis": {"values": [0,3,6,8.58,11.58,14.58,17.58,18.23,21.23,24.23,27.08,30.08,33.08,35.93,38.93,39.56,42.56,45.56,48.56,49.12,52.12,55.12,58.12], "labelExpr": "format(datum.value - (datum.value < 8.5 ? 0 : datum.value < 18.2 ? 8.58 : datum.value < 27 ? 18.23 : datum.value < 35.9 ? 27.08 : datum.value < 39.5 ? 35.93 : datum.value < 49.1 ? 39.56 : 49.12), '.0f')", "title": null, "labelOverlap": false, "tickSize": 5, "labelPadding": 1, "labelFontSize": 12}}},
    "layer": [
      {"data": {"name": "lgband"}, "mark": {"type": "rect", "color": "#efefef"}, "encoding": {"x2": {"field": "x2"}}},
      {"data": {"name": "p1"}, "mark": {"type": "circle", "size": 26, "opacity": 0.8},
       "encoding": {
         "y": {"field": "y", "type": "quantitative", "scale": {"domain": [-12, 12], "nice": false, "zero": false}, "axis": {"values": [-12, 0, 12], "title": "log2 FC", "titleFontSize": 10, "titleFontWeight": "normal", "titleFont": "Liberation Sans", "titlePadding": 3, "labelFontSize": 12, "tickSize": 3}},
         "color": {"datum": "More expressed in females", "type": "nominal", "scale": {"domain": ["More expressed in females"], "range": ["#2ea6ea"]}, "legend": {"orient": "none", "legendX": 506, "legendY": 118, "title": null}}
       }}
    ]
  },
  {
    "width": 501, "height": 187,
    "title": {"text": "Converted females versus hermaphrodites", "anchor": "start", "frame": "group", "dx": -50, "offset": 10, "fontSize": 20, "fontWeight": "bold", "font": "Liberation Sans", "color": "#000"},
    "encoding": {"x": {"field": "x", "type": "quantitative", "scale": {"domain": [0, 58.15], "nice": false, "zero": false},
      "axis": {"values": [0,3,6,8.58,11.58,14.58,17.58,18.23,21.23,24.23,27.08,30.08,33.08,35.93,38.93,39.56,42.56,45.56,48.56,49.12,52.12,55.12,58.12], "labelExpr": "format(datum.value - (datum.value < 8.5 ? 0 : datum.value < 18.2 ? 8.58 : datum.value < 27 ? 18.23 : datum.value < 35.9 ? 27.08 : datum.value < 39.5 ? 35.93 : datum.value < 49.1 ? 39.56 : 49.12), '.0f')", "title": null, "labelOverlap": false, "tickSize": 5, "labelPadding": 1, "labelFontSize": 12}}},
    "layer": [
      {"data": {"name": "lgband"}, "mark": {"type": "rect", "color": "#efefef"}, "encoding": {"x2": {"field": "x2"}}},
      {"data": {"name": "p2u"}, "mark": {"type": "circle", "size": 24, "opacity": 0.75},
       "encoding": {
         "y": {"field": "y", "type": "quantitative", "scale": {"domain": [-13, 13], "nice": false, "zero": false}, "axis": {"values": [-13, 0, 13], "title": "log2 FC", "titleFontSize": 10, "titleFontWeight": "normal", "titleFont": "Liberation Sans", "titlePadding": 3, "labelFontSize": 12, "tickSize": 3}},
         "color": {"datum": "More expressed in converted femal", "type": "nominal", "scale": {"domain": ["More expressed in converted femal", "More expressed in hermaphrodites"], "range": ["#fdb913", "#2ea6ea"]}, "legend": {"orient": "none", "legendX": 506, "legendY": 61, "title": null}}
       }},
      {"data": {"name": "p2d"}, "mark": {"type": "circle", "size": 24, "opacity": 0.75},
       "encoding": {
         "y": {"field": "y", "type": "quantitative"},
         "color": {"datum": "More expressed in hermaphrodites", "type": "nominal"}
       }}
    ]
  },
  {
    "spacing": 12,
    "bounds": "flush",
    "vconcat": [
      {
        "width": 501, "height": 187,
        "title": {"text": "Females versus hermaphrodites", "anchor": "start", "frame": "group", "dx": -50, "offset": 10, "fontSize": 20, "fontWeight": "bold", "font": "Liberation Sans", "color": "#000"},
        "encoding": {"x": {"field": "x", "type": "quantitative", "scale": {"domain": [0, 58.15], "nice": false, "zero": false},
          "axis": {"values": [0,3,6,8.58,11.58,14.58,17.58,18.23,21.23,24.23,27.08,30.08,33.08,35.93,38.93,39.56,42.56,45.56,48.56,49.12,52.12,55.12,58.12], "labelExpr": "format(datum.value - (datum.value < 8.5 ? 0 : datum.value < 18.2 ? 8.58 : datum.value < 27 ? 18.23 : datum.value < 35.9 ? 27.08 : datum.value < 39.5 ? 35.93 : datum.value < 49.1 ? 39.56 : 49.12), '.0f')", "title": null, "labelOverlap": false, "tickSize": 5, "labelPadding": 1, "labelFontSize": 12}}},
        "layer": [
          {"data": {"name": "lgband"}, "mark": {"type": "rect", "color": "#efefef"}, "encoding": {"x2": {"field": "x2"}}},
          {"data": {"name": "p3u"}, "mark": {"type": "circle", "size": 24, "opacity": 0.75},
           "encoding": {
             "y": {"field": "y", "type": "quantitative", "scale": {"domain": [-13, 13], "nice": false, "zero": false}, "axis": {"values": [-13, 0, 13], "title": "log2 FC", "titleFontSize": 10, "titleFontWeight": "normal", "titleFont": "Liberation Sans", "titlePadding": 3, "labelFontSize": 12, "tickSize": 3}},
             "color": {"datum": "More expressed in females", "type": "nominal", "scale": {"domain": ["More expressed in females", "More expressed in hermaphrodites"], "range": ["#fdb913", "#2ea6ea"]}, "legend": {"orient": "none", "legendX": 506, "legendY": 62, "title": null}}
           }},
          {"data": {"name": "p3d"}, "mark": {"type": "circle", "size": 24, "opacity": 0.75},
           "encoding": {
             "y": {"field": "y", "type": "quantitative"},
             "color": {"datum": "More expressed in hermaphrodites", "type": "nominal"}
           }}
        ]
      },
      {
        "width": 501, "height": 68,
        "data": {"name": "genes"},
        "encoding": {
          "x": {"field": "x", "type": "quantitative", "scale": {"domain": [0, 58.15], "nice": false, "zero": false},
            "axis": {"values": [4.29, 13.4, 22.65, 31.5, 37.75, 44.34, 53.63], "labelExpr": "datum.value < 8 ? 'LG1' : datum.value < 18 ? 'LG2' : datum.value < 27 ? 'LG3' : datum.value < 35 ? 'LG4' : datum.value < 39 ? 'LG5' : datum.value < 49 ? 'LG6' : 'LG7'", "title": null, "domain": false, "ticks": false, "labelFontSize": 16, "labelPadding": 20, "labelColor": "#111", "labelOverlap": false}},
          "y": {"field": "n", "type": "quantitative", "scale": {"domain": [0, 61], "reverse": true, "nice": false, "zero": true},
            "axis": {"values": [0, 30.5, 61], "format": ".1~f", "title": "# genes", "titleFontSize": 9, "titleFontWeight": "normal", "titleFont": "Liberation Sans", "titlePadding": 1, "labelFontSize": 11, "tickSize": 3}},
          "detail": {"field": "lg", "type": "nominal"}
        },
        "layer": [
          {"mark": {"type": "area", "color": "#c9c9c9", "strokeWidth": 0}},
          {"mark": {"type": "line", "color": "#555", "strokeWidth": 0.8}}
        ]
      }
    ]
  }
]
}
